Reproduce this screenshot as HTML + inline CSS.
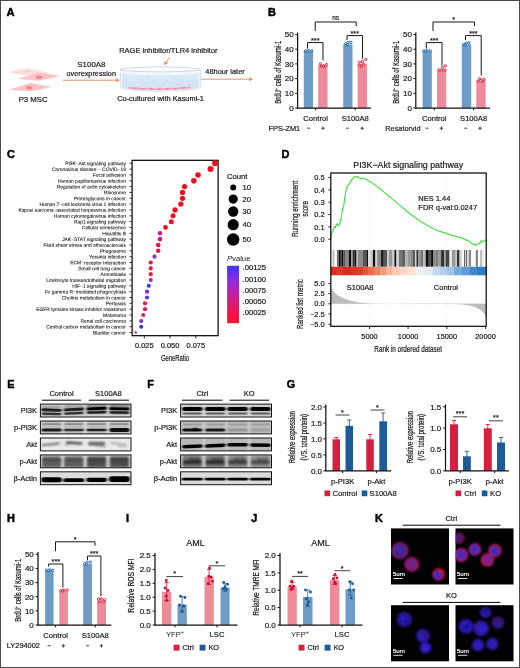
<!DOCTYPE html>
<html lang="en"><head><meta charset="utf-8"><title>Figure</title>
<style>
html,body{margin:0;padding:0;background:#fff;}
body{width:520px;height:668px;overflow:hidden;}
#fig{position:relative;width:520px;height:668px;box-sizing:border-box;border:1px solid #4a4a4a;background:#fff;overflow:hidden;}
svg{position:absolute;left:-1px;top:-1px;display:block;will-change:transform;opacity:0.999;font-family:"Liberation Sans",sans-serif;}
</style></head><body>
<div id="fig">
<svg width="520" height="668" viewBox="0 0 520 668">
<defs><filter id="bl1" x="-20%" y="-20%" width="140%" height="140%"><feGaussianBlur stdDeviation="0.5"/></filter><linearGradient id="dishg" x1="0" y1="0" x2="0" y2="1"><stop offset="0" stop-color="#dcebf8"/><stop offset="0.7" stop-color="#d2e5f5"/><stop offset="1" stop-color="#e2dcea"/></linearGradient><linearGradient id="pg" x1="0" y1="0" x2="0" y2="1"><stop offset="0" stop-color="#3c33ff"/><stop offset="0.25" stop-color="#8a2de0"/><stop offset="0.5" stop-color="#c321a0"/><stop offset="0.78" stop-color="#ee1650"/><stop offset="1" stop-color="#ff1130"/></linearGradient><filter id="bcb" x="-2%" y="-2%" width="104%" height="104%"><feGaussianBlur stdDeviation="0.45 0"/></filter><filter id="wb1" x="-10%" y="-40%" width="120%" height="180%"><feGaussianBlur stdDeviation="0.9 0.6"/></filter><filter id="wb2" x="-10%" y="-40%" width="120%" height="180%"><feGaussianBlur stdDeviation="1.3 1.0"/></filter><clipPath id="cl1"><rect x="40.4" y="404.1" width="90.6" height="12.9"/></clipPath><clipPath id="cl2"><rect x="40.4" y="421.0" width="90.6" height="12.9"/></clipPath><clipPath id="cl3"><rect x="40.4" y="438.0" width="90.6" height="12.9"/></clipPath><clipPath id="cl4"><rect x="40.4" y="454.9" width="90.6" height="12.9"/></clipPath><clipPath id="cl5"><rect x="40.4" y="471.8" width="90.6" height="12.9"/></clipPath><clipPath id="cl6"><rect x="180.6" y="404.1" width="90.9" height="12.9"/></clipPath><clipPath id="cl7"><rect x="180.6" y="421.0" width="90.9" height="12.9"/></clipPath><clipPath id="cl8"><rect x="180.6" y="438.0" width="90.9" height="12.9"/></clipPath><clipPath id="cl9"><rect x="180.6" y="454.9" width="90.9" height="12.9"/></clipPath><clipPath id="cl10"><rect x="180.6" y="471.8" width="90.9" height="12.9"/></clipPath><filter id="kb" x="-30%" y="-30%" width="160%" height="160%"><feGaussianBlur stdDeviation="0.85"/></filter><clipPath id="kc1"><rect x="391.0" y="528.4" width="58.0" height="56.1"/></clipPath><radialGradient id="cg1"><stop offset="0" stop-color="#4a30c0"/><stop offset="0.55" stop-color="#4c2aac"/><stop offset="0.84" stop-color="#a01c70" stop-opacity="0.95"/><stop offset="1" stop-color="#a01c70" stop-opacity="0"/></radialGradient><radialGradient id="cg2"><stop offset="0" stop-color="#7a2aa4"/><stop offset="0.55" stop-color="#86269c"/><stop offset="0.84" stop-color="#b81a5c" stop-opacity="0.95"/><stop offset="1" stop-color="#b81a5c" stop-opacity="0"/></radialGradient><radialGradient id="cg3"><stop offset="0" stop-color="#5a26c8"/><stop offset="0.55" stop-color="#a01c78"/><stop offset="0.84" stop-color="#d81038" stop-opacity="0.95"/><stop offset="1" stop-color="#d81038" stop-opacity="0"/></radialGradient><clipPath id="kc2"><rect x="455.5" y="528.4" width="58.0" height="56.1"/></clipPath><radialGradient id="cg4"><stop offset="0" stop-color="#4a1e90"/><stop offset="0.55" stop-color="#5a1c80"/><stop offset="0.84" stop-color="#7a1238" stop-opacity="0.95"/><stop offset="1" stop-color="#7a1238" stop-opacity="0"/></radialGradient><radialGradient id="cg5"><stop offset="0" stop-color="#5232d4"/><stop offset="0.55" stop-color="#7a2cc0"/><stop offset="0.84" stop-color="#c01c70" stop-opacity="0.95"/><stop offset="1" stop-color="#c01c70" stop-opacity="0"/></radialGradient><radialGradient id="cg6"><stop offset="0" stop-color="#4030e4"/><stop offset="0.55" stop-color="#5a2ed0"/><stop offset="0.84" stop-color="#b82480" stop-opacity="0.95"/><stop offset="1" stop-color="#b82480" stop-opacity="0"/></radialGradient><radialGradient id="cg7"><stop offset="0" stop-color="#3030e6"/><stop offset="0.55" stop-color="#6a2cc8"/><stop offset="0.84" stop-color="#c81c50" stop-opacity="0.95"/><stop offset="1" stop-color="#c81c50" stop-opacity="0"/></radialGradient><radialGradient id="cg8"><stop offset="0" stop-color="#7c2cc0"/><stop offset="0.55" stop-color="#9c28a8"/><stop offset="0.84" stop-color="#d81848" stop-opacity="0.95"/><stop offset="1" stop-color="#d81848" stop-opacity="0"/></radialGradient><clipPath id="kc3"><rect x="391.0" y="605.2" width="58.0" height="56.1"/></clipPath><radialGradient id="cg9"><stop offset="0" stop-color="#2c1ccc"/><stop offset="0.55" stop-color="#2a1ac0"/><stop offset="0.84" stop-color="#34168c" stop-opacity="0.95"/><stop offset="1" stop-color="#34168c" stop-opacity="0"/></radialGradient><radialGradient id="cg10"><stop offset="0" stop-color="#3222dc"/><stop offset="0.55" stop-color="#3020d8"/><stop offset="0.84" stop-color="#2a1498" stop-opacity="0.95"/><stop offset="1" stop-color="#2a1498" stop-opacity="0"/></radialGradient><radialGradient id="cg11"><stop offset="0" stop-color="#3828f0"/><stop offset="0.55" stop-color="#3020e0"/><stop offset="0.84" stop-color="#28149c" stop-opacity="0.95"/><stop offset="1" stop-color="#28149c" stop-opacity="0"/></radialGradient><clipPath id="kc4"><rect x="455.5" y="605.2" width="58.0" height="56.1"/></clipPath><radialGradient id="cg12"><stop offset="0" stop-color="#2a20cc"/><stop offset="0.55" stop-color="#2c1ec4"/><stop offset="0.84" stop-color="#30148c" stop-opacity="0.95"/><stop offset="1" stop-color="#30148c" stop-opacity="0"/></radialGradient><radialGradient id="cg13"><stop offset="0" stop-color="#3a1ea0"/><stop offset="0.55" stop-color="#3a1c98"/><stop offset="0.84" stop-color="#3a1470" stop-opacity="0.95"/><stop offset="1" stop-color="#3a1470" stop-opacity="0"/></radialGradient><radialGradient id="cg14"><stop offset="0" stop-color="#2418c0"/><stop offset="0.55" stop-color="#2c20e0"/><stop offset="0.84" stop-color="#2c18b0" stop-opacity="0.95"/><stop offset="1" stop-color="#2c18b0" stop-opacity="0"/></radialGradient><radialGradient id="cg15"><stop offset="0" stop-color="#3226ea"/><stop offset="0.55" stop-color="#3022e0"/><stop offset="0.84" stop-color="#34188c" stop-opacity="0.95"/><stop offset="1" stop-color="#34188c" stop-opacity="0"/></radialGradient><radialGradient id="cg16"><stop offset="0" stop-color="#3022e4"/><stop offset="0.55" stop-color="#3020dc"/><stop offset="0.84" stop-color="#2c1498" stop-opacity="0.95"/><stop offset="1" stop-color="#2c1498" stop-opacity="0"/></radialGradient><radialGradient id="cg17"><stop offset="0" stop-color="#3422d4"/><stop offset="0.55" stop-color="#3420cc"/><stop offset="0.84" stop-color="#30148c" stop-opacity="0.95"/><stop offset="1" stop-color="#30148c" stop-opacity="0"/></radialGradient></defs>
<text x="6.6" y="16" font-size="11.200000000000001" font-weight="bold" fill="#000" stroke="#000" stroke-width="0.5" stroke-linejoin="round">A</text>
<g filter="url(#bl1)">
<path d="M7.4 72 Q19 69.6 28 68 Q39 70 48.2 72.7 Q36 74.4 25 75.2 Q15 74.2 7.4 72Z" fill="#fbe0dc" opacity="0.95"/>
<ellipse cx="27" cy="71.6" rx="3.4" ry="1.2" fill="#f7c8c8" opacity="0.8"/>
<path d="M18 78.6 Q30 75 38 72.4 Q49 73.8 59.8 76 Q48 79.4 38 80.7 Q27 80 18 78.6Z" fill="#f9c2c3" opacity="0.95"/>
<path d="M8.8 89.6 Q21 86 30.6 82.9 Q41 84.6 51.6 87 Q40 90 30 91.2 Q18 90.8 8.8 89.6Z" fill="#f9bfc0" opacity="0.95"/>
<ellipse cx="39" cy="77.3" rx="3.3" ry="1.7" fill="#ee858e"/>
<ellipse cx="29" cy="87.7" rx="3.3" ry="1.7" fill="#ee858e"/>
</g>
<text x="33.20" y="102.09" font-size="7.8" text-anchor="middle" fill="#1a1a1a" stroke="#1a1a1a" stroke-width="0.2">P3 MSC</text>
<text x="91.40" y="67.23" font-size="7.9" text-anchor="middle" fill="#1a1a1a" stroke="#1a1a1a" stroke-width="0.2">S100A8</text>
<text x="91.20" y="75.81" font-size="7.3" text-anchor="middle" fill="#1a1a1a" stroke="#1a1a1a" stroke-width="0.2">overexpression</text>
<line x1="62.50" y1="80.20" x2="117.50" y2="80.20" stroke="#e58a55" stroke-width="0.9"/>
<polygon points="120,80.2 115.6,78.2 116.4,80.2 115.6,82.2" fill="#e58a55"/>
<text x="119.20" y="53.29" font-size="7.5" text-anchor="start" fill="#1a1a1a" stroke="#1a1a1a" stroke-width="0.2">RAGE inhibitor/TLR4 inhibitor</text>
<line x1="169.60" y1="57.40" x2="165.60" y2="63.20" stroke="#e58a55" stroke-width="0.95"/>
<polygon points="164.3,65.2 164.4,60.8 165.8,62.6 168.0,62.9" fill="#e58a55"/>
<g filter="url(#bl1)">
<path d="M120.4 69.4 L120.4 87 A40 4.2 0 0 0 200.4 87 L200.4 69.4 Z" fill="#f1f6fb" stroke="#c3cfda" stroke-width="0.6"/>
<path d="M122 72.6 L122 86.6 A38.4 3.8 0 0 0 198.8 86.6 L198.8 72.6 A38.4 2.6 0 0 1 122 72.6 Z" fill="url(#dishg)"/>
<ellipse cx="160.4" cy="69.4" rx="40" ry="2.4" fill="#fbfdfe" stroke="#bcc8d4" stroke-width="0.7"/>
<path d="M128 87.6 Q144 89.6 160 89.2 T191 87.4" stroke="#f4a3b2" stroke-width="1.7" fill="none" opacity="0.9"/>
<ellipse cx="135" cy="88.2" rx="2.2" ry="0.8" fill="#ef8394" opacity="0.8"/>
<ellipse cx="143" cy="88.8" rx="2.2" ry="0.8" fill="#ef8394" opacity="0.8"/>
<ellipse cx="151" cy="88.6" rx="2.2" ry="0.8" fill="#ef8394" opacity="0.8"/>
<ellipse cx="159" cy="89.2" rx="2.2" ry="0.8" fill="#ef8394" opacity="0.8"/>
<ellipse cx="167" cy="88.7" rx="2.2" ry="0.8" fill="#ef8394" opacity="0.8"/>
<ellipse cx="175" cy="88.8" rx="2.2" ry="0.8" fill="#ef8394" opacity="0.8"/>
<ellipse cx="183" cy="88.0" rx="2.2" ry="0.8" fill="#ef8394" opacity="0.8"/>
<path d="M139.6 79.5 q1.4 -1.6 2.8 0" stroke="#a9c9e8" stroke-width="0.5" fill="none"/>
<path d="M146.6 78.0 q1.4 -1.6 2.8 0" stroke="#a9c9e8" stroke-width="0.5" fill="none"/>
<path d="M151.6 81.5 q1.4 -1.6 2.8 0" stroke="#a9c9e8" stroke-width="0.5" fill="none"/>
<path d="M158.6 79.0 q1.4 -1.6 2.8 0" stroke="#a9c9e8" stroke-width="0.5" fill="none"/>
<path d="M165.6 81.0 q1.4 -1.6 2.8 0" stroke="#a9c9e8" stroke-width="0.5" fill="none"/>
<path d="M172.6 78.5 q1.4 -1.6 2.8 0" stroke="#a9c9e8" stroke-width="0.5" fill="none"/>
<path d="M179.6 81.0 q1.4 -1.6 2.8 0" stroke="#a9c9e8" stroke-width="0.5" fill="none"/>
<path d="M144.6 83.5 q1.4 -1.6 2.8 0" stroke="#a9c9e8" stroke-width="0.5" fill="none"/>
<path d="M162.6 84.0 q1.4 -1.6 2.8 0" stroke="#a9c9e8" stroke-width="0.5" fill="none"/>
<path d="M175.6 84.0 q1.4 -1.6 2.8 0" stroke="#a9c9e8" stroke-width="0.5" fill="none"/>
</g>
<line x1="200.80" y1="79.20" x2="250.60" y2="79.20" stroke="#e58a55" stroke-width="0.9"/>
<polygon points="253.2,79.2 248.8,77.2 249.6,79.2 248.8,81.2" fill="#e58a55"/>
<text x="205.30" y="74.25" font-size="7.4" text-anchor="start" fill="#1a1a1a" stroke="#1a1a1a" stroke-width="0.2">48hour later</text>
<text x="117.20" y="100.95" font-size="7.4" text-anchor="start" fill="#1a1a1a" stroke="#1a1a1a" stroke-width="0.2">Co-cultured with Kasumi-1</text>
<text x="268" y="16" font-size="10.9" font-weight="bold" fill="#000" stroke="#000" stroke-width="0.5" stroke-linejoin="round">B</text>
<rect x="303.80" y="51.41" width="9.20" height="56.59" fill="#6f9cc6"/>
<rect x="318.20" y="65.08" width="9.30" height="42.92" fill="#ee8b9b"/>
<rect x="343.20" y="44.35" width="9.30" height="63.65" fill="#6f9cc6"/>
<rect x="357.60" y="63.90" width="9.40" height="44.10" fill="#ee8b9b"/>
<line x1="297.60" y1="32.50" x2="297.60" y2="108.40" stroke="#111" stroke-width="1.25"/>
<line x1="297.20" y1="108.00" x2="371.00" y2="108.00" stroke="#111" stroke-width="1.25"/>
<line x1="295.20" y1="108.00" x2="297.60" y2="108.00" stroke="#111" stroke-width="1.0"/>
<text x="293.60" y="110.86" font-size="8" text-anchor="end" fill="#1a1a1a" stroke="#1a1a1a" stroke-width="0.2">0</text>
<line x1="295.20" y1="93.30" x2="297.60" y2="93.30" stroke="#111" stroke-width="1.0"/>
<text x="293.60" y="96.16" font-size="8" text-anchor="end" fill="#1a1a1a" stroke="#1a1a1a" stroke-width="0.2">10</text>
<line x1="295.20" y1="78.60" x2="297.60" y2="78.60" stroke="#111" stroke-width="1.0"/>
<text x="293.60" y="81.46" font-size="8" text-anchor="end" fill="#1a1a1a" stroke="#1a1a1a" stroke-width="0.2">20</text>
<line x1="295.20" y1="63.90" x2="297.60" y2="63.90" stroke="#111" stroke-width="1.0"/>
<text x="293.60" y="66.76" font-size="8" text-anchor="end" fill="#1a1a1a" stroke="#1a1a1a" stroke-width="0.2">30</text>
<line x1="295.20" y1="49.20" x2="297.60" y2="49.20" stroke="#111" stroke-width="1.0"/>
<text x="293.60" y="52.06" font-size="8" text-anchor="end" fill="#1a1a1a" stroke="#1a1a1a" stroke-width="0.2">40</text>
<line x1="295.20" y1="34.50" x2="297.60" y2="34.50" stroke="#111" stroke-width="1.0"/>
<text x="293.60" y="37.36" font-size="8" text-anchor="end" fill="#1a1a1a" stroke="#1a1a1a" stroke-width="0.2">50</text>
<line x1="315.60" y1="108.00" x2="315.60" y2="110.30" stroke="#111" stroke-width="1.0"/>
<text x="315.60" y="120.92" font-size="7.6" text-anchor="middle" fill="#1a1a1a" stroke="#1a1a1a" stroke-width="0.2">Control</text>
<line x1="355.20" y1="108.00" x2="355.20" y2="110.30" stroke="#111" stroke-width="1.0"/>
<text x="355.20" y="120.92" font-size="7.6" text-anchor="middle" fill="#1a1a1a" stroke="#1a1a1a" stroke-width="0.2">S100A8</text>
<circle cx="305.40" cy="50.90" r="1.15" fill="#fff" fill-opacity="0.6" stroke="#1f66b0" stroke-width="1.0"/>
<circle cx="308.70" cy="50.70" r="1.15" fill="#fff" fill-opacity="0.6" stroke="#1f66b0" stroke-width="1.0"/>
<circle cx="311.80" cy="50.90" r="1.15" fill="#fff" fill-opacity="0.6" stroke="#1f66b0" stroke-width="1.0"/>
<circle cx="307.20" cy="51.20" r="1.15" fill="#fff" fill-opacity="0.6" stroke="#1f66b0" stroke-width="1.0"/>
<circle cx="320.50" cy="63.70" r="1.15" fill="#fff" fill-opacity="0.6" stroke="#df1c38" stroke-width="1.0"/>
<circle cx="323.30" cy="65.90" r="1.15" fill="#fff" fill-opacity="0.6" stroke="#df1c38" stroke-width="1.0"/>
<circle cx="326.40" cy="64.40" r="1.15" fill="#fff" fill-opacity="0.6" stroke="#df1c38" stroke-width="1.0"/>
<circle cx="321.50" cy="66.20" r="1.15" fill="#fff" fill-opacity="0.6" stroke="#df1c38" stroke-width="1.0"/>
<circle cx="325.00" cy="66.20" r="1.15" fill="#fff" fill-opacity="0.6" stroke="#df1c38" stroke-width="1.0"/>
<circle cx="345.70" cy="43.80" r="1.15" fill="#fff" fill-opacity="0.6" stroke="#1f66b0" stroke-width="1.0"/>
<circle cx="348.10" cy="42.40" r="1.15" fill="#fff" fill-opacity="0.6" stroke="#1f66b0" stroke-width="1.0"/>
<circle cx="350.90" cy="42.40" r="1.15" fill="#fff" fill-opacity="0.6" stroke="#1f66b0" stroke-width="1.0"/>
<circle cx="347.10" cy="44.80" r="1.15" fill="#fff" fill-opacity="0.6" stroke="#1f66b0" stroke-width="1.0"/>
<circle cx="359.40" cy="62.30" r="1.15" fill="#fff" fill-opacity="0.6" stroke="#df1c38" stroke-width="1.0"/>
<circle cx="362.30" cy="61.60" r="1.15" fill="#fff" fill-opacity="0.6" stroke="#df1c38" stroke-width="1.0"/>
<circle cx="365.60" cy="59.50" r="1.15" fill="#fff" fill-opacity="0.6" stroke="#df1c38" stroke-width="1.0"/>
<circle cx="359.40" cy="65.20" r="1.15" fill="#fff" fill-opacity="0.6" stroke="#df1c38" stroke-width="1.0"/>
<circle cx="363.40" cy="64.40" r="1.15" fill="#fff" fill-opacity="0.6" stroke="#df1c38" stroke-width="1.0"/>
<circle cx="361.30" cy="66.60" r="1.15" fill="#fff" fill-opacity="0.6" stroke="#df1c38" stroke-width="1.0"/>
<path d="M307.50 48.60V42.60H323.00V60.40" stroke="#0c0c0c" stroke-width="0.95" fill="none"/>
<text x="315.25" y="42.78" font-size="7.2" text-anchor="middle" fill="#1a1a1a" stroke="#1a1a1a" stroke-width="0.2">***</text>
<path d="M347.00 40.00V35.60H362.50V58.60" stroke="#0c0c0c" stroke-width="0.95" fill="none"/>
<text x="354.75" y="35.78" font-size="7.2" text-anchor="middle" fill="#1a1a1a" stroke="#1a1a1a" stroke-width="0.2">***</text>
<path d="M315.20 31.00V22.00H356.20V26.00" stroke="#0c0c0c" stroke-width="0.95" fill="none"/>
<text x="335.70" y="19.56" font-size="6.6" text-anchor="middle" fill="#1a1a1a" stroke="#1a1a1a" stroke-width="0.2">ns</text>
<text transform="translate(280.58,72.25) rotate(-90) scale(0.68,1)" font-size="8.8" text-anchor="middle" fill="#1a1a1a" stroke="#1a1a1a" stroke-width="0.22">BrdU<tspan dy="-3" font-size="5.6">+</tspan><tspan dy="3"> cells of Kasumi-1</tspan></text>
<text x="268.60" y="130.85" font-size="7.4" text-anchor="start" fill="#1a1a1a" stroke="#1a1a1a" stroke-width="0.2">FPS-ZM1</text>
<line x1="307.00" y1="128.20" x2="310.20" y2="128.20" stroke="#222" stroke-width="0.8"/>
<line x1="321.20" y1="128.20" x2="324.80" y2="128.20" stroke="#222" stroke-width="0.8"/>
<line x1="323.00" y1="126.40" x2="323.00" y2="130.00" stroke="#222" stroke-width="0.8"/>
<line x1="346.00" y1="128.20" x2="349.20" y2="128.20" stroke="#222" stroke-width="0.8"/>
<line x1="360.40" y1="128.20" x2="364.00" y2="128.20" stroke="#222" stroke-width="0.8"/>
<line x1="362.20" y1="126.40" x2="362.20" y2="130.00" stroke="#222" stroke-width="0.8"/>
<rect x="422.60" y="51.41" width="9.20" height="56.59" fill="#6f9cc6"/>
<rect x="437.00" y="70.66" width="9.30" height="37.34" fill="#ee8b9b"/>
<rect x="461.80" y="44.35" width="9.40" height="63.65" fill="#6f9cc6"/>
<rect x="476.30" y="81.39" width="9.40" height="26.61" fill="#ee8b9b"/>
<line x1="415.80" y1="32.50" x2="415.80" y2="108.40" stroke="#111" stroke-width="1.25"/>
<line x1="415.40" y1="108.00" x2="490.00" y2="108.00" stroke="#111" stroke-width="1.25"/>
<line x1="413.40" y1="108.00" x2="415.80" y2="108.00" stroke="#111" stroke-width="1.0"/>
<text x="412.00" y="110.86" font-size="8" text-anchor="end" fill="#1a1a1a" stroke="#1a1a1a" stroke-width="0.2">0</text>
<line x1="413.40" y1="93.30" x2="415.80" y2="93.30" stroke="#111" stroke-width="1.0"/>
<text x="412.00" y="96.16" font-size="8" text-anchor="end" fill="#1a1a1a" stroke="#1a1a1a" stroke-width="0.2">10</text>
<line x1="413.40" y1="78.60" x2="415.80" y2="78.60" stroke="#111" stroke-width="1.0"/>
<text x="412.00" y="81.46" font-size="8" text-anchor="end" fill="#1a1a1a" stroke="#1a1a1a" stroke-width="0.2">20</text>
<line x1="413.40" y1="63.90" x2="415.80" y2="63.90" stroke="#111" stroke-width="1.0"/>
<text x="412.00" y="66.76" font-size="8" text-anchor="end" fill="#1a1a1a" stroke="#1a1a1a" stroke-width="0.2">30</text>
<line x1="413.40" y1="49.20" x2="415.80" y2="49.20" stroke="#111" stroke-width="1.0"/>
<text x="412.00" y="52.06" font-size="8" text-anchor="end" fill="#1a1a1a" stroke="#1a1a1a" stroke-width="0.2">40</text>
<line x1="413.40" y1="34.50" x2="415.80" y2="34.50" stroke="#111" stroke-width="1.0"/>
<text x="412.00" y="37.36" font-size="8" text-anchor="end" fill="#1a1a1a" stroke="#1a1a1a" stroke-width="0.2">50</text>
<line x1="434.20" y1="108.00" x2="434.20" y2="110.30" stroke="#111" stroke-width="1.0"/>
<text x="434.20" y="120.92" font-size="7.6" text-anchor="middle" fill="#1a1a1a" stroke="#1a1a1a" stroke-width="0.2">Control</text>
<line x1="473.60" y1="108.00" x2="473.60" y2="110.30" stroke="#111" stroke-width="1.0"/>
<text x="473.60" y="120.92" font-size="7.6" text-anchor="middle" fill="#1a1a1a" stroke="#1a1a1a" stroke-width="0.2">S100A8</text>
<circle cx="423.80" cy="50.90" r="1.15" fill="#fff" fill-opacity="0.6" stroke="#1f66b0" stroke-width="1.0"/>
<circle cx="427.10" cy="50.70" r="1.15" fill="#fff" fill-opacity="0.6" stroke="#1f66b0" stroke-width="1.0"/>
<circle cx="430.20" cy="50.90" r="1.15" fill="#fff" fill-opacity="0.6" stroke="#1f66b0" stroke-width="1.0"/>
<circle cx="425.60" cy="51.20" r="1.15" fill="#fff" fill-opacity="0.6" stroke="#1f66b0" stroke-width="1.0"/>
<circle cx="438.80" cy="70.10" r="1.15" fill="#fff" fill-opacity="0.6" stroke="#df1c38" stroke-width="1.0"/>
<circle cx="441.60" cy="70.10" r="1.15" fill="#fff" fill-opacity="0.6" stroke="#df1c38" stroke-width="1.0"/>
<circle cx="444.90" cy="70.10" r="1.15" fill="#fff" fill-opacity="0.6" stroke="#df1c38" stroke-width="1.0"/>
<circle cx="442.30" cy="67.60" r="1.15" fill="#fff" fill-opacity="0.6" stroke="#df1c38" stroke-width="1.0"/>
<circle cx="445.20" cy="65.90" r="1.15" fill="#fff" fill-opacity="0.6" stroke="#df1c38" stroke-width="1.0"/>
<circle cx="463.70" cy="44.50" r="1.15" fill="#fff" fill-opacity="0.6" stroke="#1f66b0" stroke-width="1.0"/>
<circle cx="466.10" cy="43.10" r="1.15" fill="#fff" fill-opacity="0.6" stroke="#1f66b0" stroke-width="1.0"/>
<circle cx="468.90" cy="42.80" r="1.15" fill="#fff" fill-opacity="0.6" stroke="#1f66b0" stroke-width="1.0"/>
<circle cx="465.10" cy="45.20" r="1.15" fill="#fff" fill-opacity="0.6" stroke="#1f66b0" stroke-width="1.0"/>
<circle cx="477.90" cy="81.20" r="1.15" fill="#fff" fill-opacity="0.6" stroke="#df1c38" stroke-width="1.0"/>
<circle cx="480.70" cy="80.40" r="1.15" fill="#fff" fill-opacity="0.6" stroke="#df1c38" stroke-width="1.0"/>
<circle cx="484.00" cy="79.40" r="1.15" fill="#fff" fill-opacity="0.6" stroke="#df1c38" stroke-width="1.0"/>
<circle cx="479.70" cy="78.70" r="1.15" fill="#fff" fill-opacity="0.6" stroke="#df1c38" stroke-width="1.0"/>
<circle cx="482.90" cy="81.20" r="1.15" fill="#fff" fill-opacity="0.6" stroke="#df1c38" stroke-width="1.0"/>
<path d="M426.30 48.60V42.60H442.00V65.60" stroke="#0c0c0c" stroke-width="0.95" fill="none"/>
<text x="434.15" y="42.78" font-size="7.2" text-anchor="middle" fill="#1a1a1a" stroke="#1a1a1a" stroke-width="0.2">***</text>
<path d="M465.50 40.00V35.60H481.20V75.60" stroke="#0c0c0c" stroke-width="0.95" fill="none"/>
<text x="473.35" y="35.78" font-size="7.2" text-anchor="middle" fill="#1a1a1a" stroke="#1a1a1a" stroke-width="0.2">***</text>
<path d="M433.00 31.00V22.00H474.50V26.00" stroke="#0c0c0c" stroke-width="0.95" fill="none"/>
<text x="453.75" y="21.78" font-size="7.2" text-anchor="middle" fill="#1a1a1a" stroke="#1a1a1a" stroke-width="0.2">*</text>
<text transform="translate(398.58,72.25) rotate(-90) scale(0.68,1)" font-size="8.8" text-anchor="middle" fill="#1a1a1a" stroke="#1a1a1a" stroke-width="0.22">BrdU<tspan dy="-3" font-size="5.6">+</tspan><tspan dy="3"> cells of Kasumi-1</tspan></text>
<text x="385.20" y="130.85" font-size="7.4" text-anchor="start" fill="#1a1a1a" stroke="#1a1a1a" stroke-width="0.2">Resatorvid</text>
<line x1="425.40" y1="128.20" x2="428.60" y2="128.20" stroke="#222" stroke-width="0.8"/>
<line x1="439.60" y1="128.20" x2="443.20" y2="128.20" stroke="#222" stroke-width="0.8"/>
<line x1="441.40" y1="126.40" x2="441.40" y2="130.00" stroke="#222" stroke-width="0.8"/>
<line x1="464.20" y1="128.20" x2="467.40" y2="128.20" stroke="#222" stroke-width="0.8"/>
<line x1="478.20" y1="128.20" x2="481.80" y2="128.20" stroke="#222" stroke-width="0.8"/>
<line x1="480.00" y1="126.40" x2="480.00" y2="130.00" stroke="#222" stroke-width="0.8"/>
<text x="7" y="157.6" font-size="10.9" font-weight="bold" fill="#000" stroke="#000" stroke-width="0.5" stroke-linejoin="round">C</text>
<text transform="translate(125.9,165.15) rotate(0.03)" font-size="4.9" text-anchor="end" fill="#1a1a1a" stroke="#1a1a1a" stroke-width="0.1">PI3K−Akt signaling pathway</text>
<line x1="129.40" y1="163.25" x2="131.80" y2="163.25" stroke="#111" stroke-width="0.8"/>
<text transform="translate(125.9,170.99) rotate(0.03)" font-size="4.9" text-anchor="end" fill="#1a1a1a" stroke="#1a1a1a" stroke-width="0.1">Coronavirus disease − COVID−19</text>
<line x1="129.40" y1="169.09" x2="131.80" y2="169.09" stroke="#111" stroke-width="0.8"/>
<text transform="translate(125.9,176.83) rotate(0.03)" font-size="4.9" text-anchor="end" fill="#1a1a1a" stroke="#1a1a1a" stroke-width="0.1">Focal adhesion</text>
<line x1="129.40" y1="174.93" x2="131.80" y2="174.93" stroke="#111" stroke-width="0.8"/>
<text transform="translate(125.9,182.67) rotate(0.03)" font-size="4.9" text-anchor="end" fill="#1a1a1a" stroke="#1a1a1a" stroke-width="0.1">Human papillomavirus infection</text>
<line x1="129.40" y1="180.76" x2="131.80" y2="180.76" stroke="#111" stroke-width="0.8"/>
<text transform="translate(125.9,188.51) rotate(0.03)" font-size="4.9" text-anchor="end" fill="#1a1a1a" stroke="#1a1a1a" stroke-width="0.1">Regulation of actin cytoskeleton</text>
<line x1="129.40" y1="186.60" x2="131.80" y2="186.60" stroke="#111" stroke-width="0.8"/>
<text transform="translate(125.9,194.34) rotate(0.03)" font-size="4.9" text-anchor="end" fill="#1a1a1a" stroke="#1a1a1a" stroke-width="0.1">Ribosome</text>
<line x1="129.40" y1="192.44" x2="131.80" y2="192.44" stroke="#111" stroke-width="0.8"/>
<text transform="translate(125.9,200.18) rotate(0.03)" font-size="4.9" text-anchor="end" fill="#1a1a1a" stroke="#1a1a1a" stroke-width="0.1">Proteoglycans in cancer</text>
<line x1="129.40" y1="198.28" x2="131.80" y2="198.28" stroke="#111" stroke-width="0.8"/>
<text transform="translate(125.9,206.02) rotate(0.03)" font-size="4.9" text-anchor="end" fill="#1a1a1a" stroke="#1a1a1a" stroke-width="0.1">Human T−cell leukemia virus 1 infection</text>
<line x1="129.40" y1="204.12" x2="131.80" y2="204.12" stroke="#111" stroke-width="0.8"/>
<text transform="translate(125.9,211.86) rotate(0.03)" font-size="4.9" text-anchor="end" fill="#1a1a1a" stroke="#1a1a1a" stroke-width="0.1">Kaposi sarcoma−associated herpesvirus infection</text>
<line x1="129.40" y1="209.95" x2="131.80" y2="209.95" stroke="#111" stroke-width="0.8"/>
<text transform="translate(125.9,217.70) rotate(0.03)" font-size="4.9" text-anchor="end" fill="#1a1a1a" stroke="#1a1a1a" stroke-width="0.1">Human cytomegalovirus infection</text>
<line x1="129.40" y1="215.79" x2="131.80" y2="215.79" stroke="#111" stroke-width="0.8"/>
<text transform="translate(125.9,223.53) rotate(0.03)" font-size="4.9" text-anchor="end" fill="#1a1a1a" stroke="#1a1a1a" stroke-width="0.1">Rap1 signaling pathway</text>
<line x1="129.40" y1="221.63" x2="131.80" y2="221.63" stroke="#111" stroke-width="0.8"/>
<text transform="translate(125.9,229.37) rotate(0.03)" font-size="4.9" text-anchor="end" fill="#1a1a1a" stroke="#1a1a1a" stroke-width="0.1">Cellular senescence</text>
<line x1="129.40" y1="227.47" x2="131.80" y2="227.47" stroke="#111" stroke-width="0.8"/>
<text transform="translate(125.9,235.21) rotate(0.03)" font-size="4.9" text-anchor="end" fill="#1a1a1a" stroke="#1a1a1a" stroke-width="0.1">Hepatitis B</text>
<line x1="129.40" y1="233.31" x2="131.80" y2="233.31" stroke="#111" stroke-width="0.8"/>
<text transform="translate(125.9,241.05) rotate(0.03)" font-size="4.9" text-anchor="end" fill="#1a1a1a" stroke="#1a1a1a" stroke-width="0.1">JAK−STAT signaling pathway</text>
<line x1="129.40" y1="239.14" x2="131.80" y2="239.14" stroke="#111" stroke-width="0.8"/>
<text transform="translate(125.9,246.89) rotate(0.03)" font-size="4.9" text-anchor="end" fill="#1a1a1a" stroke="#1a1a1a" stroke-width="0.1">Fluid shear stress and atherosclerosis</text>
<line x1="129.40" y1="244.98" x2="131.80" y2="244.98" stroke="#111" stroke-width="0.8"/>
<text transform="translate(125.9,252.72) rotate(0.03)" font-size="4.9" text-anchor="end" fill="#1a1a1a" stroke="#1a1a1a" stroke-width="0.1">Phagosome</text>
<line x1="129.40" y1="250.82" x2="131.80" y2="250.82" stroke="#111" stroke-width="0.8"/>
<text transform="translate(125.9,258.56) rotate(0.03)" font-size="4.9" text-anchor="end" fill="#1a1a1a" stroke="#1a1a1a" stroke-width="0.1">Yersinia infection</text>
<line x1="129.40" y1="256.66" x2="131.80" y2="256.66" stroke="#111" stroke-width="0.8"/>
<text transform="translate(125.9,264.40) rotate(0.03)" font-size="4.9" text-anchor="end" fill="#1a1a1a" stroke="#1a1a1a" stroke-width="0.1">ECM−receptor interaction</text>
<line x1="129.40" y1="262.50" x2="131.80" y2="262.50" stroke="#111" stroke-width="0.8"/>
<text transform="translate(125.9,270.24) rotate(0.03)" font-size="4.9" text-anchor="end" fill="#1a1a1a" stroke="#1a1a1a" stroke-width="0.1">Small cell lung cancer</text>
<line x1="129.40" y1="268.33" x2="131.80" y2="268.33" stroke="#111" stroke-width="0.8"/>
<text transform="translate(125.9,276.08) rotate(0.03)" font-size="4.9" text-anchor="end" fill="#1a1a1a" stroke="#1a1a1a" stroke-width="0.1">Amoebiasis</text>
<line x1="129.40" y1="274.17" x2="131.80" y2="274.17" stroke="#111" stroke-width="0.8"/>
<text transform="translate(125.9,281.91) rotate(0.03)" font-size="4.9" text-anchor="end" fill="#1a1a1a" stroke="#1a1a1a" stroke-width="0.1">Leukocyte transendothelial migration</text>
<line x1="129.40" y1="280.01" x2="131.80" y2="280.01" stroke="#111" stroke-width="0.8"/>
<text transform="translate(125.9,287.75) rotate(0.03)" font-size="4.9" text-anchor="end" fill="#1a1a1a" stroke="#1a1a1a" stroke-width="0.1">HIF−1 signaling pathway</text>
<line x1="129.40" y1="285.85" x2="131.80" y2="285.85" stroke="#111" stroke-width="0.8"/>
<text transform="translate(125.9,293.59) rotate(0.03)" font-size="4.9" text-anchor="end" fill="#1a1a1a" stroke="#1a1a1a" stroke-width="0.1">Fc gamma R−mediated phagocytosis</text>
<line x1="129.40" y1="291.69" x2="131.80" y2="291.69" stroke="#111" stroke-width="0.8"/>
<text transform="translate(125.9,299.43) rotate(0.03)" font-size="4.9" text-anchor="end" fill="#1a1a1a" stroke="#1a1a1a" stroke-width="0.1">Choline metabolism in cancer</text>
<line x1="129.40" y1="297.52" x2="131.80" y2="297.52" stroke="#111" stroke-width="0.8"/>
<text transform="translate(125.9,305.27) rotate(0.03)" font-size="4.9" text-anchor="end" fill="#1a1a1a" stroke="#1a1a1a" stroke-width="0.1">Pertussis</text>
<line x1="129.40" y1="303.36" x2="131.80" y2="303.36" stroke="#111" stroke-width="0.8"/>
<text transform="translate(125.9,311.10) rotate(0.03)" font-size="4.9" text-anchor="end" fill="#1a1a1a" stroke="#1a1a1a" stroke-width="0.1">EGFR tyrosine kinase inhibitor resistance</text>
<line x1="129.40" y1="309.20" x2="131.80" y2="309.20" stroke="#111" stroke-width="0.8"/>
<text transform="translate(125.9,316.94) rotate(0.03)" font-size="4.9" text-anchor="end" fill="#1a1a1a" stroke="#1a1a1a" stroke-width="0.1">Melanoma</text>
<line x1="129.40" y1="315.04" x2="131.80" y2="315.04" stroke="#111" stroke-width="0.8"/>
<text transform="translate(125.9,322.78) rotate(0.03)" font-size="4.9" text-anchor="end" fill="#1a1a1a" stroke="#1a1a1a" stroke-width="0.1">Renal cell carcinoma</text>
<line x1="129.40" y1="320.88" x2="131.80" y2="320.88" stroke="#111" stroke-width="0.8"/>
<text transform="translate(125.9,328.62) rotate(0.03)" font-size="4.9" text-anchor="end" fill="#1a1a1a" stroke="#1a1a1a" stroke-width="0.1">Central carbon metabolism in cancer</text>
<line x1="129.40" y1="326.71" x2="131.80" y2="326.71" stroke="#111" stroke-width="0.8"/>
<text transform="translate(125.9,334.46) rotate(0.03)" font-size="4.9" text-anchor="end" fill="#1a1a1a" stroke="#1a1a1a" stroke-width="0.1">Bladder cancer</text>
<line x1="129.40" y1="332.55" x2="131.80" y2="332.55" stroke="#111" stroke-width="0.8"/>
<rect x="132.1" y="160.3" width="86.0" height="175.4" fill="#fff" stroke="#000" stroke-width="1.2"/>
<circle cx="215.00" cy="163.25" r="3.00" fill="#f20d1e"/>
<circle cx="210.50" cy="169.09" r="3.00" fill="#f20d1e"/>
<circle cx="198.00" cy="174.93" r="2.80" fill="#f20d1e"/>
<circle cx="193.80" cy="180.76" r="2.80" fill="#f20d1e"/>
<circle cx="184.50" cy="186.60" r="2.60" fill="#f20d1e"/>
<circle cx="182.50" cy="192.44" r="2.60" fill="#f20d1e"/>
<circle cx="182.50" cy="198.28" r="2.60" fill="#f20d1e"/>
<circle cx="180.80" cy="204.12" r="2.60" fill="#f20d1e"/>
<circle cx="175.00" cy="209.95" r="2.60" fill="#f20d1e"/>
<circle cx="173.00" cy="215.79" r="2.50" fill="#f20e20"/>
<circle cx="171.30" cy="221.63" r="2.50" fill="#f20e20"/>
<circle cx="165.50" cy="227.47" r="2.40" fill="#f01022"/>
<circle cx="160.00" cy="233.31" r="2.30" fill="#b4239b"/>
<circle cx="160.00" cy="239.14" r="2.30" fill="#c81f86"/>
<circle cx="158.20" cy="244.98" r="2.30" fill="#e8173f"/>
<circle cx="158.20" cy="250.82" r="2.30" fill="#d51c6c"/>
<circle cx="154.50" cy="256.66" r="2.10" fill="#9a2bbf"/>
<circle cx="150.70" cy="262.50" r="2.10" fill="#ee1538"/>
<circle cx="150.70" cy="268.33" r="2.10" fill="#f0143a"/>
<circle cx="150.70" cy="274.17" r="2.10" fill="#ee1538"/>
<circle cx="150.70" cy="280.01" r="2.10" fill="#a927ab"/>
<circle cx="148.80" cy="285.85" r="2.10" fill="#4f31ee"/>
<circle cx="147.00" cy="291.69" r="2.10" fill="#7a2fd6"/>
<circle cx="147.00" cy="297.52" r="2.10" fill="#7a2fd6"/>
<circle cx="145.00" cy="303.36" r="2.10" fill="#e61848"/>
<circle cx="145.00" cy="309.20" r="2.10" fill="#e41a4e"/>
<circle cx="143.20" cy="315.04" r="2.00" fill="#cf1e72"/>
<circle cx="141.20" cy="320.88" r="2.00" fill="#742fd9"/>
<circle cx="141.20" cy="326.71" r="2.00" fill="#3a31f6"/>
<circle cx="135.80" cy="332.55" r="1.20" fill="#9a2bbf"/>
<line x1="144.30" y1="336.00" x2="144.30" y2="338.50" stroke="#111" stroke-width="0.9"/>
<text x="144.30" y="348.45" font-size="7.4" text-anchor="middle" fill="#1a1a1a" stroke="#1a1a1a" stroke-width="0.2">0.025</text>
<line x1="170.00" y1="336.00" x2="170.00" y2="338.50" stroke="#111" stroke-width="0.9"/>
<text x="170.00" y="348.45" font-size="7.4" text-anchor="middle" fill="#1a1a1a" stroke="#1a1a1a" stroke-width="0.2">0.050</text>
<line x1="195.80" y1="336.00" x2="195.80" y2="338.50" stroke="#111" stroke-width="0.9"/>
<text x="195.80" y="348.45" font-size="7.4" text-anchor="middle" fill="#1a1a1a" stroke="#1a1a1a" stroke-width="0.2">0.075</text>
<text transform="translate(175.00,360.54) scale(0.72,1)" font-size="8.2" text-anchor="middle" fill="#1a1a1a" stroke="#1a1a1a" stroke-width="0.2">GeneRatio</text>
<text x="226.90" y="179.16" font-size="7.7" text-anchor="start" fill="#1a1a1a" stroke="#1a1a1a" stroke-width="0.2">Count</text>
<circle cx="233.20" cy="187.60" r="3.00" fill="#000"/>
<text x="242.60" y="190.36" font-size="7.7" text-anchor="start" fill="#1a1a1a" stroke="#1a1a1a" stroke-width="0.2">10</text>
<circle cx="233.20" cy="199.10" r="4.60" fill="#000"/>
<text x="242.60" y="201.86" font-size="7.7" text-anchor="start" fill="#1a1a1a" stroke="#1a1a1a" stroke-width="0.2">20</text>
<circle cx="233.20" cy="211.50" r="5.20" fill="#000"/>
<text x="242.60" y="214.26" font-size="7.7" text-anchor="start" fill="#1a1a1a" stroke="#1a1a1a" stroke-width="0.2">30</text>
<circle cx="233.20" cy="224.70" r="5.60" fill="#000"/>
<text x="242.60" y="227.46" font-size="7.7" text-anchor="start" fill="#1a1a1a" stroke="#1a1a1a" stroke-width="0.2">40</text>
<circle cx="233.20" cy="239.50" r="6.20" fill="#000"/>
<text x="242.60" y="242.26" font-size="7.7" text-anchor="start" fill="#1a1a1a" stroke="#1a1a1a" stroke-width="0.2">50</text>
<text x="226.9" y="260.8" font-size="7.7" fill="#1a1a1a"><tspan font-style="italic">P</tspan>value</text>
<rect x="227.10" y="265.80" width="11.90" height="57.40" fill="url(#pg)"/>
<text x="242.60" y="270.36" font-size="7.7" text-anchor="start" fill="#1a1a1a" stroke="#1a1a1a" stroke-width="0.2">.00125</text>
<text x="242.60" y="281.56" font-size="7.7" text-anchor="start" fill="#1a1a1a" stroke="#1a1a1a" stroke-width="0.2">.00100</text>
<text x="242.60" y="292.76" font-size="7.7" text-anchor="start" fill="#1a1a1a" stroke="#1a1a1a" stroke-width="0.2">.00075</text>
<text x="242.60" y="304.06" font-size="7.7" text-anchor="start" fill="#1a1a1a" stroke="#1a1a1a" stroke-width="0.2">.00050</text>
<text x="242.60" y="315.26" font-size="7.7" text-anchor="start" fill="#1a1a1a" stroke="#1a1a1a" stroke-width="0.2">.00025</text>
<text x="281.6" y="157.6" font-size="10.9" font-weight="bold" fill="#000" stroke="#000" stroke-width="0.5" stroke-linejoin="round">D</text>
<text x="408.20" y="167.77" font-size="8.85" text-anchor="middle" fill="#1a1a1a" stroke="#1a1a1a" stroke-width="0.2">PI3K−Akt signaling pathway</text>
<line x1="369.50" y1="173.00" x2="369.50" y2="250.00" stroke="#f0f0f0" stroke-width="0.6"/>
<line x1="369.50" y1="275.40" x2="369.50" y2="326.20" stroke="#f0f0f0" stroke-width="0.6"/>
<line x1="408.10" y1="173.00" x2="408.10" y2="250.00" stroke="#f0f0f0" stroke-width="0.6"/>
<line x1="408.10" y1="275.40" x2="408.10" y2="326.20" stroke="#f0f0f0" stroke-width="0.6"/>
<line x1="446.80" y1="173.00" x2="446.80" y2="250.00" stroke="#f0f0f0" stroke-width="0.6"/>
<line x1="446.80" y1="275.40" x2="446.80" y2="326.20" stroke="#f0f0f0" stroke-width="0.6"/>
<line x1="350.10" y1="173.00" x2="350.10" y2="250.00" stroke="#f5f5f5" stroke-width="0.4"/>
<line x1="350.10" y1="275.40" x2="350.10" y2="326.20" stroke="#f5f5f5" stroke-width="0.4"/>
<line x1="388.80" y1="173.00" x2="388.80" y2="250.00" stroke="#f5f5f5" stroke-width="0.4"/>
<line x1="388.80" y1="275.40" x2="388.80" y2="326.20" stroke="#f5f5f5" stroke-width="0.4"/>
<line x1="427.40" y1="173.00" x2="427.40" y2="250.00" stroke="#f5f5f5" stroke-width="0.4"/>
<line x1="427.40" y1="275.40" x2="427.40" y2="326.20" stroke="#f5f5f5" stroke-width="0.4"/>
<line x1="466.10" y1="173.00" x2="466.10" y2="250.00" stroke="#f5f5f5" stroke-width="0.4"/>
<line x1="466.10" y1="275.40" x2="466.10" y2="326.20" stroke="#f5f5f5" stroke-width="0.4"/>
<line x1="328.30" y1="177.50" x2="330.80" y2="177.50" stroke="#111" stroke-width="0.9"/>
<text x="324.70" y="180.19" font-size="7.5" text-anchor="end" fill="#1a1a1a" stroke="#1a1a1a" stroke-width="0.2">0.5</text>
<line x1="328.30" y1="189.85" x2="330.80" y2="189.85" stroke="#111" stroke-width="0.9"/>
<text x="324.70" y="192.53" font-size="7.5" text-anchor="end" fill="#1a1a1a" stroke="#1a1a1a" stroke-width="0.2">0.4</text>
<line x1="328.30" y1="202.20" x2="330.80" y2="202.20" stroke="#111" stroke-width="0.9"/>
<text x="324.70" y="204.88" font-size="7.5" text-anchor="end" fill="#1a1a1a" stroke="#1a1a1a" stroke-width="0.2">0.3</text>
<line x1="328.30" y1="214.55" x2="330.80" y2="214.55" stroke="#111" stroke-width="0.9"/>
<text x="324.70" y="217.24" font-size="7.5" text-anchor="end" fill="#1a1a1a" stroke="#1a1a1a" stroke-width="0.2">0.2</text>
<line x1="328.30" y1="226.90" x2="330.80" y2="226.90" stroke="#111" stroke-width="0.9"/>
<text x="324.70" y="229.59" font-size="7.5" text-anchor="end" fill="#1a1a1a" stroke="#1a1a1a" stroke-width="0.2">0.1</text>
<line x1="328.30" y1="239.25" x2="330.80" y2="239.25" stroke="#111" stroke-width="0.9"/>
<text x="324.70" y="241.94" font-size="7.5" text-anchor="end" fill="#1a1a1a" stroke="#1a1a1a" stroke-width="0.2">0.0</text>
<text transform="translate(297.63,208.80) rotate(-90) scale(0.7,1)" font-size="9" text-anchor="middle" fill="#1a1a1a" stroke="#1a1a1a" stroke-width="0.22">Running enrichment</text>
<text transform="translate(308.23,208.80) rotate(-90) scale(0.7,1)" font-size="9" text-anchor="middle" fill="#1a1a1a" stroke="#1a1a1a" stroke-width="0.22">score</text>
<path d="M330.9 239.3 L331.2 235.5 L332.2 231.7 L333.2 230.6 L334.2 226.8 L335.3 227.6 L336.4 224.2 L337.4 223.8 L338.1 226.0 L339.0 225.2 L339.7 223.6 L340.5 220.5 L341.3 217.0 L342.2 211.0 L343.0 207.2 L343.8 205.6 L344.5 199.0 L345.3 194.2 L346.2 189.5 L347.2 186.0 L348.3 184.8 L349.5 183.7 L350.6 181.4 L351.8 179.4 L352.9 178.6 L353.6 177.0 L354.4 176.8 L355.2 177.3 L356.2 176.5 L357.7 176.8 L359.0 177.9 L361.0 178.5 L363.0 178.3 L365.9 179.4 L368.0 180.6 L370.8 182.0 L374.0 184.4 L377.3 187.0 L380.5 189.3 L383.8 191.9 L387.0 194.7 L390.4 197.4 L395.0 201.4 L400.2 205.6 L405.0 209.8 L410.0 213.8 L415.0 217.6 L419.8 221.0 L424.5 223.8 L429.6 226.8 L434.5 229.2 L439.4 231.1 L444.5 232.9 L449.2 234.4 L454.0 235.9 L459.0 237.3 L462.5 238.4 L465.6 239.9 L467.5 240.2 L469.0 241.6 L470.5 242.5 L472.0 243.4 L473.7 244.8 L475.0 244.3 L476.0 245.5 L477.2 244.0 L478.6 243.2 L479.8 243.6 L481.3 240.6 L482.4 241.8 L483.5 241.5 L484.6 240.3 L485.8 239.9" stroke="#48e046" stroke-width="1.2" fill="none" stroke-linejoin="round"/>
<rect x="330.80" y="250.00" width="155.40" height="16.80" fill="#fff"/>
<g filter="url(#bcb)">
<rect x="331.85" y="250" width="1.13" height="16.8" fill="#e8e8e8"/>
<rect x="332.92" y="250" width="0.97" height="16.8" fill="#a8a8a8"/>
<rect x="333.85" y="250" width="1.13" height="16.8" fill="#e4e4e4"/>
<rect x="334.92" y="250" width="2.05" height="16.8" fill="#fdfdfd"/>
<rect x="336.92" y="250" width="1.90" height="16.8" fill="#777"/>
<rect x="338.77" y="250" width="1.28" height="16.8" fill="#0a0a0a"/>
<rect x="340.00" y="250" width="1.90" height="16.8" fill="#444"/>
<rect x="341.85" y="250" width="1.59" height="16.8" fill="#0c0c0c"/>
<rect x="343.38" y="250" width="2.36" height="16.8" fill="#555"/>
<rect x="345.69" y="250" width="3.13" height="16.8" fill="#888"/>
<rect x="348.77" y="250" width="2.36" height="16.8" fill="#080808"/>
<rect x="351.08" y="250" width="1.59" height="16.8" fill="#999"/>
<rect x="352.62" y="250" width="1.90" height="16.8" fill="#333"/>
<rect x="354.46" y="250" width="2.05" height="16.8" fill="#0a0a0a"/>
<rect x="356.46" y="250" width="1.59" height="16.8" fill="#bdbdbd"/>
<rect x="358.00" y="250" width="4.67" height="16.8" fill="#8a8a8a"/>
<rect x="362.62" y="250" width="3.90" height="16.8" fill="#555"/>
<rect x="366.46" y="250" width="1.59" height="16.8" fill="#111"/>
<rect x="368.00" y="250" width="2.36" height="16.8" fill="#dedede"/>
<rect x="370.31" y="250" width="2.67" height="16.8" fill="#c8c8c8"/>
<rect x="372.92" y="250" width="2.51" height="16.8" fill="#0a0a0a"/>
<rect x="375.38" y="250" width="1.90" height="16.8" fill="#cfcfcf"/>
<rect x="377.23" y="250" width="3.90" height="16.8" fill="#888"/>
<rect x="381.08" y="250" width="2.67" height="16.8" fill="#161616"/>
<rect x="383.69" y="250" width="3.59" height="16.8" fill="#555"/>
<rect x="387.23" y="250" width="1.59" height="16.8" fill="#cdcdcd"/>
<rect x="388.77" y="250" width="3.90" height="16.8" fill="#999"/>
<rect x="392.62" y="250" width="1.90" height="16.8" fill="#cfcfcf"/>
<rect x="394.46" y="250" width="2.05" height="16.8" fill="#0c0c0c"/>
<rect x="396.46" y="250" width="2.36" height="16.8" fill="#dcdcdc"/>
<rect x="398.77" y="250" width="3.43" height="16.8" fill="#747474"/>
<rect x="402.15" y="250" width="2.82" height="16.8" fill="#5a5a5a"/>
<rect x="404.92" y="250" width="3.13" height="16.8" fill="#b4b4b4"/>
<rect x="408.00" y="250" width="2.36" height="16.8" fill="#999"/>
<rect x="410.31" y="250" width="2.36" height="16.8" fill="#868686"/>
<rect x="412.62" y="250" width="2.36" height="16.8" fill="#555"/>
<rect x="414.92" y="250" width="1.59" height="16.8" fill="#d4d4d4"/>
<rect x="416.46" y="250" width="1.59" height="16.8" fill="#303030"/>
<rect x="418.00" y="250" width="2.36" height="16.8" fill="#999"/>
<rect x="420.31" y="250" width="3.13" height="16.8" fill="#777"/>
<rect x="423.38" y="250" width="2.36" height="16.8" fill="#bcbcbc"/>
<rect x="425.69" y="250" width="3.13" height="16.8" fill="#0a0a0a"/>
<rect x="428.77" y="250" width="2.36" height="16.8" fill="#555"/>
<rect x="431.08" y="250" width="2.36" height="16.8" fill="#0c0c0c"/>
<rect x="433.38" y="250" width="2.36" height="16.8" fill="#888"/>
<rect x="435.69" y="250" width="2.82" height="16.8" fill="#7c7c7c"/>
<rect x="438.46" y="250" width="2.67" height="16.8" fill="#969696"/>
<rect x="441.08" y="250" width="3.13" height="16.8" fill="#333"/>
<rect x="444.15" y="250" width="1.59" height="16.8" fill="#9a9a9a"/>
<rect x="445.69" y="250" width="3.90" height="16.8" fill="#444"/>
<rect x="449.54" y="250" width="2.36" height="16.8" fill="#eee"/>
<rect x="451.85" y="250" width="3.90" height="16.8" fill="#999"/>
<rect x="455.69" y="250" width="1.28" height="16.8" fill="#d8d8d8"/>
<rect x="456.92" y="250" width="2.67" height="16.8" fill="#333"/>
<rect x="459.54" y="250" width="2.36" height="16.8" fill="#cdcdcd"/>
<rect x="461.85" y="250" width="2.36" height="16.8" fill="#fafafa"/>
<rect x="464.15" y="250" width="1.13" height="16.8" fill="#4a4a4a"/>
<rect x="465.23" y="250" width="0.97" height="16.8" fill="#cfcfcf"/>
<rect x="466.15" y="250" width="1.13" height="16.8" fill="#555"/>
<rect x="467.23" y="250" width="1.59" height="16.8" fill="#e0e0e0"/>
<rect x="468.77" y="250" width="2.36" height="16.8" fill="#888"/>
<rect x="471.08" y="250" width="4.67" height="16.8" fill="#fbfbfb"/>
<rect x="475.69" y="250" width="2.36" height="16.8" fill="#888"/>
<rect x="478.00" y="250" width="2.36" height="16.8" fill="#fbfbfb"/>
<rect x="480.31" y="250" width="1.59" height="16.8" fill="#a8a8a8"/>
<rect x="481.85" y="250" width="2.51" height="16.8" fill="#f0f0f0"/>
</g>
<rect x="330.80" y="266.80" width="5.50" height="8.50" fill="#e02a20"/>
<rect x="336.00" y="266.80" width="7.30" height="8.50" fill="#e4362a"/>
<rect x="343.00" y="266.80" width="8.30" height="8.50" fill="#dc2a20"/>
<rect x="351.00" y="266.80" width="6.30" height="8.50" fill="#e13425"/>
<rect x="357.00" y="266.80" width="6.30" height="8.50" fill="#e53a29"/>
<rect x="363.00" y="266.80" width="5.30" height="8.50" fill="#ea543a"/>
<rect x="368.00" y="266.80" width="6.30" height="8.50" fill="#ef6c4c"/>
<rect x="374.00" y="266.80" width="6.30" height="8.50" fill="#f28463"/>
<rect x="380.00" y="266.80" width="6.30" height="8.50" fill="#f49c7e"/>
<rect x="386.00" y="266.80" width="6.30" height="8.50" fill="#f7b69c"/>
<rect x="392.00" y="266.80" width="7.30" height="8.50" fill="#f9c8b2"/>
<rect x="399.00" y="266.80" width="8.30" height="8.50" fill="#fad6c6"/>
<rect x="407.00" y="266.80" width="8.80" height="8.50" fill="#fbe1d5"/>
<rect x="415.50" y="266.80" width="7.80" height="8.50" fill="#eeeef4"/>
<rect x="423.00" y="266.80" width="9.90" height="8.50" fill="#e4ebf6"/>
<rect x="432.60" y="266.80" width="7.70" height="8.50" fill="#c6d9ee"/>
<rect x="440.00" y="266.80" width="7.30" height="8.50" fill="#b4cfe9"/>
<rect x="447.00" y="266.80" width="7.30" height="8.50" fill="#a0c3e5"/>
<rect x="454.00" y="266.80" width="8.30" height="8.50" fill="#77abdb"/>
<rect x="462.00" y="266.80" width="7.80" height="8.50" fill="#5f9cd5"/>
<rect x="469.50" y="266.80" width="7.80" height="8.50" fill="#3f88cc"/>
<rect x="477.00" y="266.80" width="9.50" height="8.50" fill="#307dc5"/>
<line x1="328.30" y1="283.50" x2="330.80" y2="283.50" stroke="#111" stroke-width="0.9"/>
<text x="324.70" y="286.19" font-size="7.5" text-anchor="end" fill="#1a1a1a" stroke="#1a1a1a" stroke-width="0.2">5.0</text>
<line x1="328.30" y1="293.60" x2="330.80" y2="293.60" stroke="#111" stroke-width="0.9"/>
<text x="324.70" y="296.29" font-size="7.5" text-anchor="end" fill="#1a1a1a" stroke="#1a1a1a" stroke-width="0.2">2.5</text>
<line x1="328.30" y1="303.80" x2="330.80" y2="303.80" stroke="#111" stroke-width="0.9"/>
<text x="324.70" y="306.49" font-size="7.5" text-anchor="end" fill="#1a1a1a" stroke="#1a1a1a" stroke-width="0.2">0.0</text>
<line x1="328.30" y1="314.00" x2="330.80" y2="314.00" stroke="#111" stroke-width="0.9"/>
<text x="324.70" y="316.69" font-size="7.5" text-anchor="end" fill="#1a1a1a" stroke="#1a1a1a" stroke-width="0.2">−2.5</text>
<line x1="328.30" y1="324.20" x2="330.80" y2="324.20" stroke="#111" stroke-width="0.9"/>
<text x="324.70" y="326.88" font-size="7.5" text-anchor="end" fill="#1a1a1a" stroke="#1a1a1a" stroke-width="0.2">−5.0</text>
<line x1="330.80" y1="303.80" x2="486.20" y2="303.80" stroke="#dcdcdc" stroke-width="0.5"/>
<path d="M330.8 303.8 L330.8 285.6 L331.6 288.4 L333.0 290.6 L335.5 293.6 L338.0 295.4 L341.0 297.0 L345.0 298.8 L349.0 300.2 L353.0 301.3 L360.0 302.5 L370.0 303.4 L385.0 303.8 L440.0 303.9 L455.0 304.1 L463.0 304.6 L469.0 305.5 L474.0 306.8 L478.0 308.4 L481.0 310.2 L483.5 312.6 L485.0 315.0 L486.2 318.0 L486.2 303.8 Z" stroke="none" stroke-width="0" fill="#bdbdbd"/>
<text transform="translate(303.03,304.00) rotate(-90) scale(0.7,1)" font-size="9" text-anchor="middle" fill="#1a1a1a" stroke="#1a1a1a" stroke-width="0.22">Ranked list metric</text>
<text x="418.30" y="200.78" font-size="7.5" text-anchor="start" fill="#1a1a1a" stroke="#1a1a1a" stroke-width="0.2">NES 1.44</text>
<text x="418.30" y="209.59" font-size="7.5" text-anchor="start" fill="#1a1a1a" stroke="#1a1a1a" stroke-width="0.2">FDR q-val:0.0247</text>
<text x="346.80" y="290.29" font-size="7.5" text-anchor="start" fill="#1a1a1a" stroke="#1a1a1a" stroke-width="0.2">S100A8</text>
<text x="433.80" y="290.29" font-size="7.5" text-anchor="start" fill="#1a1a1a" stroke="#1a1a1a" stroke-width="0.2">Control</text>
<rect x="330.8" y="173" width="155.4" height="153.3" fill="none" stroke="#000" stroke-width="1.2"/>
<line x1="369.50" y1="326.30" x2="369.50" y2="329.00" stroke="#111" stroke-width="0.9"/>
<text x="369.50" y="339.05" font-size="7.4" text-anchor="middle" fill="#1a1a1a" stroke="#1a1a1a" stroke-width="0.2">5000</text>
<line x1="408.10" y1="326.30" x2="408.10" y2="329.00" stroke="#111" stroke-width="0.9"/>
<text x="408.10" y="339.05" font-size="7.4" text-anchor="middle" fill="#1a1a1a" stroke="#1a1a1a" stroke-width="0.2">10000</text>
<line x1="446.80" y1="326.30" x2="446.80" y2="329.00" stroke="#111" stroke-width="0.9"/>
<text x="446.80" y="339.05" font-size="7.4" text-anchor="middle" fill="#1a1a1a" stroke="#1a1a1a" stroke-width="0.2">15000</text>
<line x1="485.50" y1="326.30" x2="485.50" y2="329.00" stroke="#111" stroke-width="0.9"/>
<text x="485.50" y="339.05" font-size="7.4" text-anchor="middle" fill="#1a1a1a" stroke="#1a1a1a" stroke-width="0.2">20000</text>
<text transform="translate(408.20,351.54) scale(0.775,1)" font-size="8.2" text-anchor="middle" fill="#1a1a1a" stroke="#1a1a1a" stroke-width="0.2">Rank in ordered dataset</text>
<text x="7.2" y="388.1" font-size="10.9" font-weight="bold" fill="#000" stroke="#000" stroke-width="0.5" stroke-linejoin="round">E</text>
<text x="61.50" y="395.99" font-size="7.5" text-anchor="middle" fill="#1a1a1a" stroke="#1a1a1a" stroke-width="0.2">Control</text>
<text x="108.40" y="395.99" font-size="7.5" text-anchor="middle" fill="#1a1a1a" stroke="#1a1a1a" stroke-width="0.2">S100A8</text>
<line x1="42.00" y1="400.20" x2="81.00" y2="400.20" stroke="#000" stroke-width="1.0"/>
<line x1="88.80" y1="400.20" x2="129.00" y2="400.20" stroke="#000" stroke-width="1.0"/>
<text x="37.00" y="413.34" font-size="7.5" text-anchor="end" fill="#1a1a1a" stroke="#1a1a1a" stroke-width="0.2">PI3K</text>
<text x="37.00" y="430.24" font-size="7.5" text-anchor="end" fill="#1a1a1a" stroke="#1a1a1a" stroke-width="0.2">p-PI3K</text>
<text x="37.00" y="447.24" font-size="7.5" text-anchor="end" fill="#1a1a1a" stroke="#1a1a1a" stroke-width="0.2">Akt</text>
<text x="37.00" y="464.13" font-size="7.5" text-anchor="end" fill="#1a1a1a" stroke="#1a1a1a" stroke-width="0.2">p-Akt</text>
<text x="37.00" y="481.04" font-size="7.5" text-anchor="end" fill="#1a1a1a" stroke="#1a1a1a" stroke-width="0.2">β-Actin</text>
<g clip-path="url(#cl1)">
<rect x="40.40" y="404.10" width="90.60" height="12.90" fill="#d2d2d2"/>
<g filter="url(#wb1)">
<rect x="41.4" y="405.8" width="20.4" height="10.0" rx="2.6" fill="#6a6a6a" fill-opacity="0.4"/>
<rect x="41.4" y="408.6" width="20.4" height="2.9" rx="1.4" fill="#050505" fill-opacity="0.85" transform="rotate(2 51.6 410.0)"/>
<rect x="41.8" y="412.7" width="19.6" height="2.3" rx="1.1" fill="#0c0c0c" fill-opacity="0.765" transform="rotate(2 51.6 413.8)"/>
<rect x="63.6" y="405.2" width="20.4" height="10.0" rx="2.6" fill="#6a6a6a" fill-opacity="0.4"/>
<rect x="63.6" y="408.0" width="20.4" height="2.9" rx="1.4" fill="#050505" fill-opacity="0.85" transform="rotate(-3 73.8 409.4)"/>
<rect x="64.0" y="412.1" width="19.6" height="2.3" rx="1.1" fill="#0c0c0c" fill-opacity="0.765" transform="rotate(-3 73.8 413.2)"/>
<rect x="86.4" y="404.3" width="20.4" height="10.0" rx="2.6" fill="#6a6a6a" fill-opacity="0.65"/>
<rect x="86.4" y="407.1" width="20.4" height="2.9" rx="1.4" fill="#050505" fill-opacity="1" transform="rotate(-2 96.6 408.5)"/>
<rect x="86.8" y="411.2" width="19.6" height="2.3" rx="1.1" fill="#0c0c0c" fill-opacity="0.9" transform="rotate(-2 96.6 412.3)"/>
<rect x="109.2" y="404.5" width="20.4" height="10.0" rx="2.6" fill="#6a6a6a" fill-opacity="0.65"/>
<rect x="109.2" y="407.3" width="20.4" height="2.9" rx="1.4" fill="#050505" fill-opacity="1" transform="rotate(1 119.4 408.7)"/>
<rect x="109.6" y="411.4" width="19.6" height="2.3" rx="1.1" fill="#0c0c0c" fill-opacity="0.9" transform="rotate(1 119.4 412.5)"/>
</g></g>
<rect x="40.4" y="404.1" width="90.6" height="12.9" fill="none" stroke="#141414" stroke-width="1"/>
<g clip-path="url(#cl2)">
<rect x="40.40" y="421.00" width="90.60" height="12.90" fill="#e2e2e2"/>
<g filter="url(#wb1)">
<rect x="41.4" y="421.0" width="20.4" height="13.0" rx="2.6" fill="#8a8a8a" fill-opacity="0.4"/>
<rect x="42.0" y="423.3" width="19.2" height="1.8" rx="0.9" fill="#555" fill-opacity="0.45"/>
<rect x="41.4" y="428.5" width="20.4" height="3.0" rx="1.5" fill="#080808" fill-opacity="0.9"/>
<rect x="63.6" y="421.0" width="20.4" height="13.0" rx="2.6" fill="#8a8a8a" fill-opacity="0.4"/>
<rect x="64.2" y="423.3" width="19.2" height="1.8" rx="0.9" fill="#555" fill-opacity="0.45"/>
<rect x="63.6" y="428.7" width="20.4" height="2.6" rx="1.3" fill="#080808" fill-opacity="0.78"/>
<rect x="86.4" y="421.0" width="20.4" height="13.0" rx="2.6" fill="#8a8a8a" fill-opacity="0.4"/>
<rect x="87.0" y="423.3" width="19.2" height="1.8" rx="0.9" fill="#555" fill-opacity="0.45"/>
<rect x="86.4" y="428.7" width="20.4" height="2.6" rx="1.3" fill="#080808" fill-opacity="0.85"/>
<rect x="109.2" y="421.0" width="20.4" height="13.0" rx="2.6" fill="#8a8a8a" fill-opacity="0.4"/>
<rect x="109.8" y="423.3" width="19.2" height="1.8" rx="0.9" fill="#555" fill-opacity="0.45"/>
<rect x="109.2" y="428.0" width="20.4" height="4.0" rx="2.0" fill="#080808" fill-opacity="1.0"/>
</g></g>
<rect x="40.4" y="421.0" width="90.6" height="12.9" fill="none" stroke="#141414" stroke-width="1"/>
<g clip-path="url(#cl3)">
<rect x="40.40" y="438.00" width="90.60" height="12.90" fill="#ebebeb"/>
<g filter="url(#wb2)">
<rect x="41.6" y="443.4" width="17.0" height="2.0" rx="1.0" fill="#4f4f4f" fill-opacity="0.8" transform="rotate(-5 50.1 444.4)"/>
<rect x="54.9" y="442.4" width="6.4" height="1.6" rx="0.8" fill="#666" fill-opacity="0.6"/>
<rect x="65.9" y="441.8" width="16.8" height="2.4" rx="1.2" fill="#333" fill-opacity="0.85" transform="rotate(4 74.3 443.0)"/>
<rect x="64.3" y="443.8" width="6.0" height="1.6" rx="0.8" fill="#666" fill-opacity="0.5"/>
<rect x="87.8" y="441.8" width="17.6" height="3.6" rx="1.8" fill="#484848" fill-opacity="0.8"/>
<rect x="93.6" y="444.8" width="12.0" height="2.0" rx="1.0" fill="#707070" fill-opacity="0.6" transform="rotate(8 99.6 445.8)"/>
<rect x="110.4" y="442.8" width="16.0" height="2.0" rx="1.0" fill="#8c8c8c" fill-opacity="0.65" transform="rotate(6 118.4 443.8)"/>
<rect x="117.4" y="445.6" width="10.0" height="1.6" rx="0.8" fill="#9a9a9a" fill-opacity="0.5"/>
</g></g>
<rect x="40.4" y="438.0" width="90.6" height="12.9" fill="none" stroke="#141414" stroke-width="1"/>
<g clip-path="url(#cl4)">
<rect x="40.40" y="454.90" width="90.60" height="12.90" fill="#d6d6d6"/>
<g filter="url(#wb2)">
<rect x="41.7" y="455.9" width="19.8" height="12.4" rx="2.6" fill="#4c4c4c" fill-opacity="0.68"/>
<rect x="42.3" y="458.0" width="18.6" height="3.8" rx="1.9" fill="#121212" fill-opacity="0.48"/>
<rect x="42.3" y="462.4" width="18.6" height="3.6" rx="1.8" fill="#1c1c1c" fill-opacity="0.36000000000000004"/>
<rect x="63.9" y="455.9" width="19.8" height="12.4" rx="2.6" fill="#4c4c4c" fill-opacity="0.663"/>
<rect x="64.5" y="458.0" width="18.6" height="3.8" rx="1.9" fill="#121212" fill-opacity="0.46799999999999997"/>
<rect x="64.5" y="462.4" width="18.6" height="3.6" rx="1.8" fill="#1c1c1c" fill-opacity="0.35100000000000003"/>
<rect x="86.7" y="455.9" width="19.8" height="12.4" rx="2.6" fill="#4c4c4c" fill-opacity="0.782"/>
<rect x="87.3" y="458.0" width="18.6" height="3.8" rx="1.9" fill="#121212" fill-opacity="0.552"/>
<rect x="87.3" y="462.4" width="18.6" height="3.6" rx="1.8" fill="#1c1c1c" fill-opacity="0.41400000000000003"/>
<rect x="109.5" y="455.9" width="19.8" height="12.4" rx="2.6" fill="#4c4c4c" fill-opacity="0.782"/>
<rect x="110.1" y="458.0" width="18.6" height="3.8" rx="1.9" fill="#121212" fill-opacity="0.552"/>
<rect x="110.1" y="462.4" width="18.6" height="3.6" rx="1.8" fill="#1c1c1c" fill-opacity="0.41400000000000003"/>
</g></g>
<rect x="40.4" y="454.9" width="90.6" height="12.9" fill="none" stroke="#141414" stroke-width="1"/>
<g clip-path="url(#cl5)">
<rect x="40.40" y="471.80" width="90.60" height="12.90" fill="#dcdcdc"/>
<g filter="url(#wb1)">
<rect x="41.2" y="477.3" width="20.8" height="5.0" rx="2.5" fill="#000" fill-opacity="1.0"/>
<rect x="63.4" y="478.3" width="20.8" height="3.8" rx="1.9" fill="#000" fill-opacity="1.0"/>
<rect x="86.2" y="477.7" width="20.8" height="4.2" rx="2.1" fill="#000" fill-opacity="1.0"/>
<rect x="109.0" y="476.3" width="20.8" height="5.6" rx="2.6" fill="#000" fill-opacity="1.0"/>
</g></g>
<rect x="40.4" y="471.8" width="90.6" height="12.9" fill="none" stroke="#141414" stroke-width="1"/>
<text x="147.2" y="388.1" font-size="10.9" font-weight="bold" fill="#000" stroke="#000" stroke-width="0.5" stroke-linejoin="round">F</text>
<text x="202.30" y="395.99" font-size="7.5" text-anchor="middle" fill="#1a1a1a" stroke="#1a1a1a" stroke-width="0.2">Ctrl</text>
<text x="249.10" y="395.99" font-size="7.5" text-anchor="middle" fill="#1a1a1a" stroke="#1a1a1a" stroke-width="0.2">KO</text>
<line x1="182.00" y1="400.20" x2="222.50" y2="400.20" stroke="#000" stroke-width="1.0"/>
<line x1="229.60" y1="400.20" x2="269.00" y2="400.20" stroke="#000" stroke-width="1.0"/>
<text x="177.20" y="413.34" font-size="7.5" text-anchor="end" fill="#1a1a1a" stroke="#1a1a1a" stroke-width="0.2">PI3K</text>
<text x="177.20" y="430.24" font-size="7.5" text-anchor="end" fill="#1a1a1a" stroke="#1a1a1a" stroke-width="0.2">p-PI3K</text>
<text x="177.20" y="447.24" font-size="7.5" text-anchor="end" fill="#1a1a1a" stroke="#1a1a1a" stroke-width="0.2">Akt</text>
<text x="177.20" y="464.13" font-size="7.5" text-anchor="end" fill="#1a1a1a" stroke="#1a1a1a" stroke-width="0.2">p-Akt</text>
<text x="177.20" y="481.04" font-size="7.5" text-anchor="end" fill="#1a1a1a" stroke="#1a1a1a" stroke-width="0.2">β-Actin</text>
<g clip-path="url(#cl6)">
<rect x="180.60" y="404.10" width="90.90" height="12.90" fill="#dedede"/>
<g filter="url(#wb1)">
<rect x="182.1" y="404.1" width="20.4" height="12.0" rx="2.6" fill="#9a9a9a" fill-opacity="0.3"/>
<rect x="181.9" y="407.0" width="20.8" height="4.0" rx="2.0" fill="#040404" fill-opacity="1.0"/>
<rect x="182.4" y="412.4" width="19.8" height="2.2" rx="1.1" fill="#333" fill-opacity="0.7"/>
<rect x="205.1" y="404.1" width="20.4" height="12.0" rx="2.6" fill="#9a9a9a" fill-opacity="0.3"/>
<rect x="204.9" y="407.0" width="20.8" height="4.0" rx="2.0" fill="#040404" fill-opacity="1.0"/>
<rect x="205.4" y="412.4" width="19.8" height="2.2" rx="1.1" fill="#333" fill-opacity="0.7"/>
<rect x="227.5" y="404.1" width="20.4" height="12.0" rx="2.6" fill="#9a9a9a" fill-opacity="0.3"/>
<rect x="227.3" y="407.0" width="20.8" height="4.0" rx="2.0" fill="#040404" fill-opacity="1.0"/>
<rect x="227.8" y="412.4" width="19.8" height="2.2" rx="1.1" fill="#333" fill-opacity="0.7"/>
<rect x="250.2" y="404.1" width="20.4" height="12.0" rx="2.6" fill="#9a9a9a" fill-opacity="0.3"/>
<rect x="250.0" y="407.0" width="20.8" height="4.0" rx="2.0" fill="#040404" fill-opacity="1.0"/>
<rect x="250.5" y="412.4" width="19.8" height="2.2" rx="1.1" fill="#333" fill-opacity="0.7"/>
</g></g>
<rect x="180.6" y="404.1" width="90.9" height="12.9" fill="none" stroke="#141414" stroke-width="1"/>
<g clip-path="url(#cl7)">
<rect x="180.60" y="421.00" width="90.90" height="12.90" fill="#d6d6d6"/>
<g filter="url(#wb1)">
<rect x="181.7" y="421.0" width="21.2" height="13.0" rx="2.6" fill="#9a9a9a" fill-opacity="0.45"/>
<rect x="182.6" y="423.4" width="19.4" height="2.0" rx="1.0" fill="#666" fill-opacity="0.35"/>
<rect x="182.1" y="428.4" width="20.4" height="3.2" rx="1.6" fill="#070707" fill-opacity="0.98"/>
<rect x="204.7" y="421.0" width="21.2" height="13.0" rx="2.6" fill="#9a9a9a" fill-opacity="0.45"/>
<rect x="205.6" y="423.4" width="19.4" height="2.0" rx="1.0" fill="#666" fill-opacity="0.35"/>
<rect x="205.1" y="428.4" width="20.4" height="3.2" rx="1.6" fill="#070707" fill-opacity="0.9"/>
<rect x="227.1" y="421.0" width="21.2" height="13.0" rx="2.6" fill="#9a9a9a" fill-opacity="0.45"/>
<rect x="228.0" y="423.4" width="19.4" height="2.0" rx="1.0" fill="#666" fill-opacity="0.35"/>
<rect x="227.5" y="428.4" width="20.4" height="3.2" rx="1.6" fill="#070707" fill-opacity="0.2"/>
<rect x="249.8" y="421.0" width="21.2" height="13.0" rx="2.6" fill="#9a9a9a" fill-opacity="0.45"/>
<rect x="250.7" y="423.4" width="19.4" height="2.0" rx="1.0" fill="#666" fill-opacity="0.35"/>
<rect x="250.2" y="428.4" width="20.4" height="3.2" rx="1.6" fill="#070707" fill-opacity="0.14"/>
<rect x="192.7" y="427.6" width="5.2" height="3.2" rx="1.6" fill="#000" fill-opacity="0.7"/>
</g></g>
<rect x="180.6" y="421.0" width="90.9" height="12.9" fill="none" stroke="#141414" stroke-width="1"/>
<g clip-path="url(#cl8)">
<rect x="180.60" y="438.00" width="90.90" height="12.90" fill="#d9d9d9"/>
<g filter="url(#wb1)">
<rect x="181.7" y="438.0" width="21.2" height="13.0" rx="2.6" fill="#9a9a9a" fill-opacity="0.55"/>
<rect x="181.8" y="444.6" width="21.0" height="3.5" rx="1.8" fill="#060606" fill-opacity="1.0" transform="rotate(-2 192.3 446.3)"/>
<rect x="204.7" y="438.0" width="21.2" height="13.0" rx="2.6" fill="#9a9a9a" fill-opacity="0.55"/>
<rect x="204.8" y="443.9" width="21.0" height="3.5" rx="1.8" fill="#060606" fill-opacity="1.0" transform="rotate(-3 215.3 445.7)"/>
<rect x="227.1" y="438.0" width="21.2" height="13.0" rx="2.6" fill="#9a9a9a" fill-opacity="0.55"/>
<rect x="227.2" y="443.1" width="21.0" height="3.5" rx="1.8" fill="#060606" fill-opacity="1.0"/>
<rect x="249.8" y="438.0" width="21.2" height="13.0" rx="2.6" fill="#9a9a9a" fill-opacity="0.55"/>
<rect x="249.9" y="443.4" width="21.0" height="3.5" rx="1.8" fill="#060606" fill-opacity="1.0" transform="rotate(1 260.4 445.2)"/>
</g></g>
<rect x="180.6" y="438.0" width="90.9" height="12.9" fill="none" stroke="#141414" stroke-width="1"/>
<g clip-path="url(#cl9)">
<rect x="180.60" y="454.90" width="90.90" height="12.90" fill="#d2d2d2"/>
<g filter="url(#wb2)">
<rect x="182.3" y="455.3" width="20.0" height="12.8" rx="2.6" fill="#5c5c5c" fill-opacity="0.76"/>
<rect x="182.7" y="460.0" width="19.2" height="4.6" rx="2.3" fill="#0e0e0e" fill-opacity="0.6839999999999999"/>
<rect x="188.3" y="457.8" width="12.0" height="2.6" rx="1.3" fill="#1a1a1a" fill-opacity="0.4275"/>
<rect x="205.3" y="455.3" width="20.0" height="12.8" rx="2.6" fill="#5c5c5c" fill-opacity="0.76"/>
<rect x="205.7" y="460.0" width="19.2" height="4.6" rx="2.3" fill="#0e0e0e" fill-opacity="0.6839999999999999"/>
<rect x="211.3" y="457.8" width="12.0" height="2.6" rx="1.3" fill="#1a1a1a" fill-opacity="0.4275"/>
<rect x="227.7" y="455.3" width="20.0" height="12.8" rx="2.6" fill="#5c5c5c" fill-opacity="0.6400000000000001"/>
<rect x="228.1" y="460.0" width="19.2" height="4.6" rx="2.3" fill="#0e0e0e" fill-opacity="0.576"/>
<rect x="233.7" y="457.8" width="12.0" height="2.6" rx="1.3" fill="#1a1a1a" fill-opacity="0.36000000000000004"/>
<rect x="250.4" y="455.3" width="20.0" height="12.8" rx="2.6" fill="#5c5c5c" fill-opacity="0.5599999999999999"/>
<rect x="250.8" y="460.0" width="19.2" height="4.6" rx="2.3" fill="#0e0e0e" fill-opacity="0.504"/>
<rect x="256.4" y="457.8" width="12.0" height="2.6" rx="1.3" fill="#1a1a1a" fill-opacity="0.315"/>
</g></g>
<rect x="180.6" y="454.9" width="90.9" height="12.9" fill="none" stroke="#141414" stroke-width="1"/>
<g clip-path="url(#cl10)">
<rect x="180.60" y="471.80" width="90.90" height="12.90" fill="#dadada"/>
<g filter="url(#wb1)">
<rect x="181.8" y="477.7" width="21.0" height="2.9" rx="1.4" fill="#000" fill-opacity="1.0"/>
<rect x="204.8" y="477.7" width="21.0" height="2.9" rx="1.4" fill="#000" fill-opacity="1.0"/>
<rect x="227.2" y="477.7" width="21.0" height="2.9" rx="1.4" fill="#000" fill-opacity="1.0"/>
<rect x="249.9" y="477.7" width="21.0" height="2.9" rx="1.4" fill="#000" fill-opacity="1.0"/>
</g></g>
<rect x="180.6" y="471.8" width="90.9" height="12.9" fill="none" stroke="#141414" stroke-width="1"/>
<text x="286.8" y="388.1" font-size="10.9" font-weight="bold" fill="#000" stroke="#000" stroke-width="0.5" stroke-linejoin="round">G</text>
<line x1="336.25" y1="437.50" x2="336.25" y2="439.80" stroke="#d81e3f" stroke-width="0.9"/>
<line x1="334.15" y1="437.50" x2="338.35" y2="437.50" stroke="#d81e3f" stroke-width="0.9"/>
<rect x="332.50" y="439.30" width="7.50" height="31.50" fill="#d81e3f"/>
<line x1="349.25" y1="420.00" x2="349.25" y2="426.30" stroke="#1d5a96" stroke-width="0.9"/>
<line x1="347.15" y1="420.00" x2="351.35" y2="420.00" stroke="#1d5a96" stroke-width="0.9"/>
<rect x="345.50" y="425.80" width="7.50" height="45.00" fill="#1d5a96"/>
<line x1="370.05" y1="434.50" x2="370.05" y2="439.80" stroke="#d81e3f" stroke-width="0.9"/>
<line x1="367.95" y1="434.50" x2="372.15" y2="434.50" stroke="#d81e3f" stroke-width="0.9"/>
<rect x="366.30" y="439.30" width="7.50" height="31.50" fill="#d81e3f"/>
<line x1="383.15" y1="413.00" x2="383.15" y2="421.80" stroke="#1d5a96" stroke-width="0.9"/>
<line x1="381.05" y1="413.00" x2="385.25" y2="413.00" stroke="#1d5a96" stroke-width="0.9"/>
<rect x="379.30" y="421.30" width="7.70" height="49.50" fill="#1d5a96"/>
<line x1="325.80" y1="404.50" x2="325.80" y2="471.20" stroke="#111" stroke-width="1.25"/>
<line x1="325.40" y1="470.80" x2="391.20" y2="470.80" stroke="#111" stroke-width="1.25"/>
<line x1="323.40" y1="407.00" x2="325.80" y2="407.00" stroke="#111" stroke-width="1.0"/>
<text x="322.00" y="409.86" font-size="8" text-anchor="end" fill="#1a1a1a" stroke="#1a1a1a" stroke-width="0.2">2.0</text>
<line x1="323.40" y1="423.00" x2="325.80" y2="423.00" stroke="#111" stroke-width="1.0"/>
<text x="322.00" y="425.86" font-size="8" text-anchor="end" fill="#1a1a1a" stroke="#1a1a1a" stroke-width="0.2">1.5</text>
<line x1="323.40" y1="438.90" x2="325.80" y2="438.90" stroke="#111" stroke-width="1.0"/>
<text x="322.00" y="441.76" font-size="8" text-anchor="end" fill="#1a1a1a" stroke="#1a1a1a" stroke-width="0.2">1.0</text>
<line x1="323.40" y1="454.90" x2="325.80" y2="454.90" stroke="#111" stroke-width="1.0"/>
<text x="322.00" y="457.76" font-size="8" text-anchor="end" fill="#1a1a1a" stroke="#1a1a1a" stroke-width="0.2">0.5</text>
<line x1="323.40" y1="470.80" x2="325.80" y2="470.80" stroke="#111" stroke-width="1.0"/>
<text x="322.00" y="473.66" font-size="8" text-anchor="end" fill="#1a1a1a" stroke="#1a1a1a" stroke-width="0.2">0.0</text>
<line x1="342.60" y1="470.80" x2="342.60" y2="473.10" stroke="#111" stroke-width="1.0"/>
<text x="342.60" y="483.92" font-size="7.6" text-anchor="middle" fill="#1a1a1a" stroke="#1a1a1a" stroke-width="0.2">p-PI3K</text>
<line x1="376.40" y1="470.80" x2="376.40" y2="473.10" stroke="#111" stroke-width="1.0"/>
<text x="376.40" y="483.92" font-size="7.6" text-anchor="middle" fill="#1a1a1a" stroke="#1a1a1a" stroke-width="0.2">p-Akt</text>
<line x1="335.50" y1="415.00" x2="349.50" y2="415.00" stroke="#111" stroke-width="0.8"/>
<text x="342.50" y="414.68" font-size="7.2" text-anchor="middle" fill="#1a1a1a" stroke="#1a1a1a" stroke-width="0.2">*</text>
<line x1="370.50" y1="410.00" x2="384.50" y2="410.00" stroke="#111" stroke-width="0.8"/>
<text x="377.50" y="409.68" font-size="7.2" text-anchor="middle" fill="#1a1a1a" stroke="#1a1a1a" stroke-width="0.2">*</text>
<text transform="translate(295.38,437.20) rotate(-90) scale(0.68,1)" font-size="8.8" text-anchor="middle" fill="#1a1a1a" stroke="#1a1a1a" stroke-width="0.22">Relative expression</text>
<text transform="translate(306.68,437.20) rotate(-90) scale(0.68,1)" font-size="8.8" text-anchor="middle" fill="#1a1a1a" stroke="#1a1a1a" stroke-width="0.22">(VS. total protein)</text>
<rect x="324.50" y="490.50" width="5.60" height="5.70" fill="#d81e3f"/>
<text x="332.60" y="496.12" font-size="7.6" text-anchor="start" fill="#1a1a1a" stroke="#1a1a1a" stroke-width="0.2">Control</text>
<rect x="361.70" y="490.50" width="5.60" height="5.70" fill="#1d5a96"/>
<text x="369.60" y="496.12" font-size="7.6" text-anchor="start" fill="#1a1a1a" stroke="#1a1a1a" stroke-width="0.2">S100A8</text>
<line x1="454.00" y1="420.50" x2="454.00" y2="424.80" stroke="#d81e3f" stroke-width="0.9"/>
<line x1="451.90" y1="420.50" x2="456.10" y2="420.50" stroke="#d81e3f" stroke-width="0.9"/>
<rect x="450.00" y="424.30" width="8.00" height="46.50" fill="#d81e3f"/>
<line x1="466.90" y1="451.30" x2="466.90" y2="456.80" stroke="#1d5a96" stroke-width="0.9"/>
<line x1="464.80" y1="451.30" x2="469.00" y2="451.30" stroke="#1d5a96" stroke-width="0.9"/>
<rect x="463.00" y="456.30" width="7.80" height="14.50" fill="#1d5a96"/>
<line x1="487.80" y1="424.50" x2="487.80" y2="428.80" stroke="#d81e3f" stroke-width="0.9"/>
<line x1="485.70" y1="424.50" x2="489.90" y2="424.50" stroke="#d81e3f" stroke-width="0.9"/>
<rect x="483.80" y="428.30" width="8.00" height="42.50" fill="#d81e3f"/>
<line x1="501.00" y1="437.50" x2="501.00" y2="443.00" stroke="#1d5a96" stroke-width="0.9"/>
<line x1="498.90" y1="437.50" x2="503.10" y2="437.50" stroke="#1d5a96" stroke-width="0.9"/>
<rect x="497.00" y="442.50" width="8.00" height="28.30" fill="#1d5a96"/>
<line x1="445.50" y1="404.50" x2="445.50" y2="471.20" stroke="#111" stroke-width="1.25"/>
<line x1="445.10" y1="470.80" x2="508.80" y2="470.80" stroke="#111" stroke-width="1.25"/>
<line x1="443.10" y1="406.80" x2="445.50" y2="406.80" stroke="#111" stroke-width="1.0"/>
<text x="441.30" y="409.66" font-size="8" text-anchor="end" fill="#1a1a1a" stroke="#1a1a1a" stroke-width="0.2">1.5</text>
<line x1="443.10" y1="428.10" x2="445.50" y2="428.10" stroke="#111" stroke-width="1.0"/>
<text x="441.30" y="430.96" font-size="8" text-anchor="end" fill="#1a1a1a" stroke="#1a1a1a" stroke-width="0.2">1.0</text>
<line x1="443.10" y1="449.50" x2="445.50" y2="449.50" stroke="#111" stroke-width="1.0"/>
<text x="441.30" y="452.36" font-size="8" text-anchor="end" fill="#1a1a1a" stroke="#1a1a1a" stroke-width="0.2">0.5</text>
<line x1="443.10" y1="470.80" x2="445.50" y2="470.80" stroke="#111" stroke-width="1.0"/>
<text x="441.30" y="473.66" font-size="8" text-anchor="end" fill="#1a1a1a" stroke="#1a1a1a" stroke-width="0.2">0.0</text>
<line x1="460.20" y1="470.80" x2="460.20" y2="473.10" stroke="#111" stroke-width="1.0"/>
<text x="460.20" y="483.92" font-size="7.6" text-anchor="middle" fill="#1a1a1a" stroke="#1a1a1a" stroke-width="0.2">p-PI3K</text>
<line x1="494.60" y1="470.80" x2="494.60" y2="473.10" stroke="#111" stroke-width="1.0"/>
<text x="494.60" y="483.92" font-size="7.6" text-anchor="middle" fill="#1a1a1a" stroke="#1a1a1a" stroke-width="0.2">p-Akt</text>
<line x1="453.00" y1="416.80" x2="467.00" y2="416.80" stroke="#111" stroke-width="0.8"/>
<text x="460.00" y="416.48" font-size="7.2" text-anchor="middle" fill="#1a1a1a" stroke="#1a1a1a" stroke-width="0.2">***</text>
<line x1="488.80" y1="420.80" x2="503.00" y2="420.80" stroke="#111" stroke-width="0.8"/>
<text x="495.90" y="420.48" font-size="7.2" text-anchor="middle" fill="#1a1a1a" stroke="#1a1a1a" stroke-width="0.2">**</text>
<text transform="translate(412.88,437.20) rotate(-90) scale(0.68,1)" font-size="8.8" text-anchor="middle" fill="#1a1a1a" stroke="#1a1a1a" stroke-width="0.22">Relative expression</text>
<text transform="translate(424.18,437.20) rotate(-90) scale(0.68,1)" font-size="8.8" text-anchor="middle" fill="#1a1a1a" stroke="#1a1a1a" stroke-width="0.22">(VS. total protein)</text>
<rect x="455.50" y="490.50" width="5.60" height="5.70" fill="#d81e3f"/>
<text x="464.30" y="496.12" font-size="7.6" text-anchor="start" fill="#1a1a1a" stroke="#1a1a1a" stroke-width="0.2">Ctrl</text>
<rect x="481.80" y="490.50" width="5.60" height="5.70" fill="#1d5a96"/>
<text x="490.10" y="496.12" font-size="7.6" text-anchor="start" fill="#1a1a1a" stroke="#1a1a1a" stroke-width="0.2">KO</text>
<text x="6.9" y="521.9" font-size="10.9" font-weight="bold" fill="#000" stroke="#000" stroke-width="0.5" stroke-linejoin="round">H</text>
<rect x="45.10" y="570.84" width="8.50" height="54.16" fill="#6f9cc6"/>
<rect x="59.30" y="591.21" width="8.60" height="33.79" fill="#ee8b9b"/>
<rect x="83.20" y="564.06" width="8.80" height="60.94" fill="#6f9cc6"/>
<rect x="97.10" y="600.54" width="8.90" height="24.46" fill="#ee8b9b"/>
<line x1="38.00" y1="552.10" x2="38.00" y2="625.40" stroke="#111" stroke-width="1.25"/>
<line x1="37.60" y1="625.00" x2="111.20" y2="625.00" stroke="#111" stroke-width="1.25"/>
<line x1="35.60" y1="625.00" x2="38.00" y2="625.00" stroke="#111" stroke-width="1.0"/>
<text x="33.80" y="627.86" font-size="8" text-anchor="end" fill="#1a1a1a" stroke="#1a1a1a" stroke-width="0.2">0</text>
<line x1="35.60" y1="610.86" x2="38.00" y2="610.86" stroke="#111" stroke-width="1.0"/>
<text x="33.80" y="613.72" font-size="8" text-anchor="end" fill="#1a1a1a" stroke="#1a1a1a" stroke-width="0.2">10</text>
<line x1="35.60" y1="596.72" x2="38.00" y2="596.72" stroke="#111" stroke-width="1.0"/>
<text x="33.80" y="599.58" font-size="8" text-anchor="end" fill="#1a1a1a" stroke="#1a1a1a" stroke-width="0.2">20</text>
<line x1="35.60" y1="582.58" x2="38.00" y2="582.58" stroke="#111" stroke-width="1.0"/>
<text x="33.80" y="585.44" font-size="8" text-anchor="end" fill="#1a1a1a" stroke="#1a1a1a" stroke-width="0.2">30</text>
<line x1="35.60" y1="568.44" x2="38.00" y2="568.44" stroke="#111" stroke-width="1.0"/>
<text x="33.80" y="571.30" font-size="8" text-anchor="end" fill="#1a1a1a" stroke="#1a1a1a" stroke-width="0.2">40</text>
<line x1="35.60" y1="554.30" x2="38.00" y2="554.30" stroke="#111" stroke-width="1.0"/>
<text x="33.80" y="557.16" font-size="8" text-anchor="end" fill="#1a1a1a" stroke="#1a1a1a" stroke-width="0.2">50</text>
<line x1="55.60" y1="625.00" x2="55.60" y2="627.30" stroke="#111" stroke-width="1.0"/>
<text x="55.60" y="637.72" font-size="7.6" text-anchor="middle" fill="#1a1a1a" stroke="#1a1a1a" stroke-width="0.2">Control</text>
<line x1="95.20" y1="625.00" x2="95.20" y2="627.30" stroke="#111" stroke-width="1.0"/>
<text x="95.20" y="637.72" font-size="7.6" text-anchor="middle" fill="#1a1a1a" stroke="#1a1a1a" stroke-width="0.2">S100A8</text>
<circle cx="46.50" cy="570.20" r="1.15" fill="#fff" fill-opacity="0.6" stroke="#1f66b0" stroke-width="1.0"/>
<circle cx="49.70" cy="569.90" r="1.15" fill="#fff" fill-opacity="0.6" stroke="#1f66b0" stroke-width="1.0"/>
<circle cx="52.70" cy="570.20" r="1.15" fill="#fff" fill-opacity="0.6" stroke="#1f66b0" stroke-width="1.0"/>
<circle cx="48.20" cy="570.60" r="1.15" fill="#fff" fill-opacity="0.6" stroke="#1f66b0" stroke-width="1.0"/>
<circle cx="60.80" cy="590.70" r="1.15" fill="#fff" fill-opacity="0.6" stroke="#df1c38" stroke-width="1.0"/>
<circle cx="63.90" cy="590.10" r="1.15" fill="#fff" fill-opacity="0.6" stroke="#df1c38" stroke-width="1.0"/>
<circle cx="67.20" cy="590.10" r="1.15" fill="#fff" fill-opacity="0.6" stroke="#df1c38" stroke-width="1.0"/>
<circle cx="62.40" cy="590.90" r="1.15" fill="#fff" fill-opacity="0.6" stroke="#df1c38" stroke-width="1.0"/>
<circle cx="84.70" cy="563.70" r="1.15" fill="#fff" fill-opacity="0.6" stroke="#1f66b0" stroke-width="1.0"/>
<circle cx="87.10" cy="562.20" r="1.15" fill="#fff" fill-opacity="0.6" stroke="#1f66b0" stroke-width="1.0"/>
<circle cx="90.30" cy="562.20" r="1.15" fill="#fff" fill-opacity="0.6" stroke="#1f66b0" stroke-width="1.0"/>
<circle cx="86.40" cy="564.50" r="1.15" fill="#fff" fill-opacity="0.6" stroke="#1f66b0" stroke-width="1.0"/>
<circle cx="98.50" cy="598.90" r="1.15" fill="#fff" fill-opacity="0.6" stroke="#df1c38" stroke-width="1.0"/>
<circle cx="101.30" cy="598.70" r="1.15" fill="#fff" fill-opacity="0.6" stroke="#df1c38" stroke-width="1.0"/>
<circle cx="104.60" cy="599.70" r="1.15" fill="#fff" fill-opacity="0.6" stroke="#df1c38" stroke-width="1.0"/>
<circle cx="99.40" cy="601.80" r="1.15" fill="#fff" fill-opacity="0.6" stroke="#df1c38" stroke-width="1.0"/>
<circle cx="103.40" cy="601.50" r="1.15" fill="#fff" fill-opacity="0.6" stroke="#df1c38" stroke-width="1.0"/>
<path d="M48.70 566.60V564.00H62.90V587.60" stroke="#0c0c0c" stroke-width="0.95" fill="none"/>
<text x="55.80" y="563.78" font-size="7.2" text-anchor="middle" fill="#1a1a1a" stroke="#1a1a1a" stroke-width="0.2">***</text>
<path d="M87.50 560.00V556.00H100.90V596.10" stroke="#0c0c0c" stroke-width="0.95" fill="none"/>
<text x="94.20" y="555.98" font-size="7.2" text-anchor="middle" fill="#1a1a1a" stroke="#1a1a1a" stroke-width="0.2">***</text>
<path d="M55.50 551.20V541.80H95.00V545.80" stroke="#0c0c0c" stroke-width="0.95" fill="none"/>
<text x="75.25" y="541.58" font-size="7.2" text-anchor="middle" fill="#1a1a1a" stroke="#1a1a1a" stroke-width="0.2">*</text>
<text transform="translate(20.58,590.25) rotate(-90) scale(0.68,1)" font-size="8.8" text-anchor="middle" fill="#1a1a1a" stroke="#1a1a1a" stroke-width="0.22">BrdU<tspan dy="-3" font-size="5.6">+</tspan><tspan dy="3"> cells of Kasumi-1</tspan></text>
<text x="6.80" y="648.45" font-size="7.4" text-anchor="start" fill="#1a1a1a" stroke="#1a1a1a" stroke-width="0.2">LY294002</text>
<line x1="47.50" y1="645.80" x2="50.90" y2="645.80" stroke="#222" stroke-width="0.8"/>
<line x1="61.60" y1="645.80" x2="65.00" y2="645.80" stroke="#222" stroke-width="0.8"/>
<line x1="63.30" y1="644.00" x2="63.30" y2="647.60" stroke="#222" stroke-width="0.8"/>
<line x1="85.80" y1="645.80" x2="89.20" y2="645.80" stroke="#222" stroke-width="0.8"/>
<line x1="99.70" y1="645.80" x2="103.10" y2="645.80" stroke="#222" stroke-width="0.8"/>
<line x1="101.40" y1="644.00" x2="101.40" y2="647.60" stroke="#222" stroke-width="0.8"/>
<text x="126" y="521.9" font-size="10.9" font-weight="bold" fill="#000" stroke="#000" stroke-width="0.5" stroke-linejoin="round">I</text>
<text x="195.50" y="546.42" font-size="9" text-anchor="middle" fill="#1a1a1a" stroke="#1a1a1a" stroke-width="0.2">AML</text>
<rect x="162.00" y="591.80" width="9.30" height="33.20" fill="#ee8b9b"/>
<rect x="177.50" y="604.50" width="9.30" height="20.50" fill="#6f9cc6"/>
<rect x="204.50" y="577.00" width="9.30" height="48.00" fill="#ee8b9b"/>
<rect x="220.50" y="587.50" width="9.10" height="37.50" fill="#6f9cc6"/>
<line x1="155.00" y1="553.00" x2="155.00" y2="625.40" stroke="#111" stroke-width="1.25"/>
<line x1="154.60" y1="625.00" x2="237.50" y2="625.00" stroke="#111" stroke-width="1.25"/>
<line x1="152.60" y1="555.50" x2="155.00" y2="555.50" stroke="#111" stroke-width="1.0"/>
<text x="150.80" y="558.36" font-size="8" text-anchor="end" fill="#1a1a1a" stroke="#1a1a1a" stroke-width="0.2">2.5</text>
<line x1="152.60" y1="569.40" x2="155.00" y2="569.40" stroke="#111" stroke-width="1.0"/>
<text x="150.80" y="572.26" font-size="8" text-anchor="end" fill="#1a1a1a" stroke="#1a1a1a" stroke-width="0.2">2.0</text>
<line x1="152.60" y1="583.30" x2="155.00" y2="583.30" stroke="#111" stroke-width="1.0"/>
<text x="150.80" y="586.16" font-size="8" text-anchor="end" fill="#1a1a1a" stroke="#1a1a1a" stroke-width="0.2">1.5</text>
<line x1="152.60" y1="597.20" x2="155.00" y2="597.20" stroke="#111" stroke-width="1.0"/>
<text x="150.80" y="600.06" font-size="8" text-anchor="end" fill="#1a1a1a" stroke="#1a1a1a" stroke-width="0.2">1.0</text>
<line x1="152.60" y1="611.10" x2="155.00" y2="611.10" stroke="#111" stroke-width="1.0"/>
<text x="150.80" y="613.96" font-size="8" text-anchor="end" fill="#1a1a1a" stroke="#1a1a1a" stroke-width="0.2">0.5</text>
<line x1="152.60" y1="625.00" x2="155.00" y2="625.00" stroke="#111" stroke-width="1.0"/>
<text x="150.80" y="627.86" font-size="8" text-anchor="end" fill="#1a1a1a" stroke="#1a1a1a" stroke-width="0.2">0.0</text>
<line x1="166.65" y1="582.50" x2="166.65" y2="600.50" stroke="#c8102e" stroke-width="0.8"/>
<line x1="164.45" y1="582.50" x2="168.85" y2="582.50" stroke="#c8102e" stroke-width="0.8"/>
<line x1="164.45" y1="600.50" x2="168.85" y2="600.50" stroke="#c8102e" stroke-width="0.8"/>
<line x1="182.15" y1="596.80" x2="182.15" y2="612.00" stroke="#1d5a96" stroke-width="0.8"/>
<line x1="179.95" y1="596.80" x2="184.35" y2="596.80" stroke="#1d5a96" stroke-width="0.8"/>
<line x1="179.95" y1="612.00" x2="184.35" y2="612.00" stroke="#1d5a96" stroke-width="0.8"/>
<line x1="209.15" y1="569.30" x2="209.15" y2="584.30" stroke="#c8102e" stroke-width="0.8"/>
<line x1="206.95" y1="569.30" x2="211.35" y2="569.30" stroke="#c8102e" stroke-width="0.8"/>
<line x1="206.95" y1="584.30" x2="211.35" y2="584.30" stroke="#c8102e" stroke-width="0.8"/>
<line x1="225.05" y1="583.80" x2="225.05" y2="591.30" stroke="#1d5a96" stroke-width="0.8"/>
<line x1="222.85" y1="583.80" x2="227.25" y2="583.80" stroke="#1d5a96" stroke-width="0.8"/>
<line x1="222.85" y1="591.30" x2="227.25" y2="591.30" stroke="#1d5a96" stroke-width="0.8"/>
<circle cx="166.25" cy="580.50" r="1.40" fill="#c8102e"/>
<circle cx="165.00" cy="588.00" r="1.40" fill="#c8102e"/>
<circle cx="168.00" cy="590.50" r="1.40" fill="#c8102e"/>
<circle cx="166.25" cy="596.25" r="1.40" fill="#c8102e"/>
<circle cx="166.75" cy="600.50" r="1.40" fill="#c8102e"/>
<circle cx="180.50" cy="596.25" r="1.40" fill="#1d5a96"/>
<circle cx="185.00" cy="597.50" r="1.40" fill="#1d5a96"/>
<circle cx="179.50" cy="605.00" r="1.40" fill="#1d5a96"/>
<circle cx="183.75" cy="606.25" r="1.40" fill="#1d5a96"/>
<circle cx="182.00" cy="611.25" r="1.40" fill="#1d5a96"/>
<circle cx="209.50" cy="568.00" r="1.40" fill="#c8102e"/>
<circle cx="208.75" cy="576.25" r="1.40" fill="#c8102e"/>
<circle cx="211.25" cy="577.00" r="1.40" fill="#c8102e"/>
<circle cx="212.50" cy="581.25" r="1.40" fill="#c8102e"/>
<circle cx="208.00" cy="583.75" r="1.40" fill="#c8102e"/>
<circle cx="223.75" cy="582.50" r="1.40" fill="#1d5a96"/>
<circle cx="227.50" cy="584.25" r="1.40" fill="#1d5a96"/>
<circle cx="225.00" cy="587.00" r="1.40" fill="#1d5a96"/>
<circle cx="226.25" cy="589.50" r="1.40" fill="#1d5a96"/>
<circle cx="223.25" cy="588.75" r="1.40" fill="#1d5a96"/>
<line x1="166.30" y1="576.60" x2="183.00" y2="576.60" stroke="#111" stroke-width="0.8"/>
<text x="174.65" y="576.48" font-size="7.2" text-anchor="middle" fill="#1a1a1a" stroke="#1a1a1a" stroke-width="0.2">*</text>
<line x1="208.80" y1="565.80" x2="225.00" y2="565.80" stroke="#111" stroke-width="0.8"/>
<text x="216.90" y="565.68" font-size="7.2" text-anchor="middle" fill="#1a1a1a" stroke="#1a1a1a" stroke-width="0.2">*</text>
<line x1="175.00" y1="625.00" x2="175.00" y2="627.30" stroke="#111" stroke-width="1.0"/>
<text x="175.00" y="637.12" font-size="7.6" text-anchor="middle" fill="#1a1a1a">YFP<tspan dy="-3" font-size="5.4">+</tspan></text>
<line x1="217.00" y1="625.00" x2="217.00" y2="627.30" stroke="#111" stroke-width="1.0"/>
<text x="217.00" y="637.12" font-size="7.6" text-anchor="middle" fill="#1a1a1a" stroke="#1a1a1a" stroke-width="0.2">LSC</text>
<text transform="translate(134.18,585.60) rotate(-90) scale(0.765,1)" font-size="8.8" text-anchor="middle" fill="#1a1a1a" stroke="#1a1a1a" stroke-width="0.22">Relative ROS MFI</text>
<rect x="173.60" y="644.70" width="5.90" height="5.90" fill="#d81e3f"/>
<text x="182.40" y="650.25" font-size="7.4" text-anchor="start" fill="#1a1a1a" stroke="#1a1a1a" stroke-width="0.2">Ctrl</text>
<rect x="199.60" y="644.70" width="5.90" height="5.90" fill="#1d5a96"/>
<text x="208.40" y="650.25" font-size="7.4" text-anchor="start" fill="#1a1a1a" stroke="#1a1a1a" stroke-width="0.2">KO</text>
<text x="251.2" y="521.9" font-size="10.9" font-weight="bold" fill="#000" stroke="#000" stroke-width="0.5" stroke-linejoin="round">J</text>
<text x="320.50" y="546.42" font-size="9" text-anchor="middle" fill="#1a1a1a" stroke="#1a1a1a" stroke-width="0.2">AML</text>
<rect x="287.50" y="587.00" width="9.30" height="38.00" fill="#ee8b9b"/>
<rect x="303.00" y="597.00" width="9.50" height="28.00" fill="#6f9cc6"/>
<rect x="330.00" y="580.00" width="9.30" height="45.00" fill="#ee8b9b"/>
<rect x="345.50" y="589.30" width="9.50" height="35.70" fill="#6f9cc6"/>
<line x1="280.00" y1="553.00" x2="280.00" y2="625.40" stroke="#111" stroke-width="1.25"/>
<line x1="279.60" y1="625.00" x2="362.50" y2="625.00" stroke="#111" stroke-width="1.25"/>
<line x1="277.60" y1="555.50" x2="280.00" y2="555.50" stroke="#111" stroke-width="1.0"/>
<text x="275.80" y="558.36" font-size="8" text-anchor="end" fill="#1a1a1a" stroke="#1a1a1a" stroke-width="0.2">2.0</text>
<line x1="277.60" y1="572.90" x2="280.00" y2="572.90" stroke="#111" stroke-width="1.0"/>
<text x="275.80" y="575.76" font-size="8" text-anchor="end" fill="#1a1a1a" stroke="#1a1a1a" stroke-width="0.2">1.5</text>
<line x1="277.60" y1="590.20" x2="280.00" y2="590.20" stroke="#111" stroke-width="1.0"/>
<text x="275.80" y="593.06" font-size="8" text-anchor="end" fill="#1a1a1a" stroke="#1a1a1a" stroke-width="0.2">1.0</text>
<line x1="277.60" y1="607.60" x2="280.00" y2="607.60" stroke="#111" stroke-width="1.0"/>
<text x="275.80" y="610.46" font-size="8" text-anchor="end" fill="#1a1a1a" stroke="#1a1a1a" stroke-width="0.2">0.5</text>
<line x1="277.60" y1="625.00" x2="280.00" y2="625.00" stroke="#111" stroke-width="1.0"/>
<text x="275.80" y="627.86" font-size="8" text-anchor="end" fill="#1a1a1a" stroke="#1a1a1a" stroke-width="0.2">0.0</text>
<line x1="292.15" y1="582.50" x2="292.15" y2="589.50" stroke="#c8102e" stroke-width="0.8"/>
<line x1="289.95" y1="582.50" x2="294.35" y2="582.50" stroke="#c8102e" stroke-width="0.8"/>
<line x1="289.95" y1="589.50" x2="294.35" y2="589.50" stroke="#c8102e" stroke-width="0.8"/>
<line x1="307.75" y1="590.00" x2="307.75" y2="606.30" stroke="#1d5a96" stroke-width="0.8"/>
<line x1="305.55" y1="590.00" x2="309.95" y2="590.00" stroke="#1d5a96" stroke-width="0.8"/>
<line x1="305.55" y1="606.30" x2="309.95" y2="606.30" stroke="#1d5a96" stroke-width="0.8"/>
<line x1="334.65" y1="575.50" x2="334.65" y2="584.50" stroke="#c8102e" stroke-width="0.8"/>
<line x1="332.45" y1="575.50" x2="336.85" y2="575.50" stroke="#c8102e" stroke-width="0.8"/>
<line x1="332.45" y1="584.50" x2="336.85" y2="584.50" stroke="#c8102e" stroke-width="0.8"/>
<line x1="350.25" y1="581.30" x2="350.25" y2="595.00" stroke="#1d5a96" stroke-width="0.8"/>
<line x1="348.05" y1="581.30" x2="352.45" y2="581.30" stroke="#1d5a96" stroke-width="0.8"/>
<line x1="348.05" y1="595.00" x2="352.45" y2="595.00" stroke="#1d5a96" stroke-width="0.8"/>
<circle cx="291.75" cy="581.25" r="1.40" fill="#c8102e"/>
<circle cx="290.00" cy="586.25" r="1.40" fill="#c8102e"/>
<circle cx="293.75" cy="586.25" r="1.40" fill="#c8102e"/>
<circle cx="291.25" cy="589.50" r="1.40" fill="#c8102e"/>
<circle cx="292.50" cy="588.00" r="1.40" fill="#c8102e"/>
<circle cx="305.50" cy="590.00" r="1.40" fill="#1d5a96"/>
<circle cx="310.50" cy="592.00" r="1.40" fill="#1d5a96"/>
<circle cx="306.25" cy="598.75" r="1.40" fill="#1d5a96"/>
<circle cx="308.75" cy="602.00" r="1.40" fill="#1d5a96"/>
<circle cx="307.50" cy="605.00" r="1.40" fill="#1d5a96"/>
<circle cx="335.00" cy="574.50" r="1.40" fill="#c8102e"/>
<circle cx="333.25" cy="578.75" r="1.40" fill="#c8102e"/>
<circle cx="337.00" cy="578.00" r="1.40" fill="#c8102e"/>
<circle cx="334.50" cy="582.50" r="1.40" fill="#c8102e"/>
<circle cx="335.75" cy="583.75" r="1.40" fill="#c8102e"/>
<circle cx="350.00" cy="582.00" r="1.40" fill="#1d5a96"/>
<circle cx="352.50" cy="583.75" r="1.40" fill="#1d5a96"/>
<circle cx="349.25" cy="590.00" r="1.40" fill="#1d5a96"/>
<circle cx="353.75" cy="590.00" r="1.40" fill="#1d5a96"/>
<circle cx="351.25" cy="598.00" r="1.40" fill="#1d5a96"/>
<line x1="292.00" y1="576.40" x2="308.00" y2="576.40" stroke="#111" stroke-width="0.8"/>
<text x="300.00" y="576.28" font-size="7.2" text-anchor="middle" fill="#1a1a1a" stroke="#1a1a1a" stroke-width="0.2">**</text>
<line x1="334.50" y1="570.70" x2="350.00" y2="570.70" stroke="#111" stroke-width="0.8"/>
<text x="342.25" y="570.58" font-size="7.2" text-anchor="middle" fill="#1a1a1a" stroke="#1a1a1a" stroke-width="0.2">*</text>
<line x1="300.00" y1="625.00" x2="300.00" y2="627.30" stroke="#111" stroke-width="1.0"/>
<text x="300.00" y="637.12" font-size="7.6" text-anchor="middle" fill="#1a1a1a">YFP<tspan dy="-3" font-size="5.4">+</tspan></text>
<line x1="342.00" y1="625.00" x2="342.00" y2="627.30" stroke="#111" stroke-width="1.0"/>
<text x="342.00" y="637.12" font-size="7.6" text-anchor="middle" fill="#1a1a1a" stroke="#1a1a1a" stroke-width="0.2">LSC</text>
<text transform="translate(259.18,587.50) rotate(-90) scale(0.735,1)" font-size="8.8" text-anchor="middle" fill="#1a1a1a" stroke="#1a1a1a" stroke-width="0.22">Relative TMRE MFI</text>
<rect x="298.60" y="644.70" width="5.90" height="5.90" fill="#d81e3f"/>
<text x="307.40" y="650.25" font-size="7.4" text-anchor="start" fill="#1a1a1a" stroke="#1a1a1a" stroke-width="0.2">Ctrl</text>
<rect x="324.60" y="644.70" width="5.90" height="5.90" fill="#1d5a96"/>
<text x="333.40" y="650.25" font-size="7.4" text-anchor="start" fill="#1a1a1a" stroke="#1a1a1a" stroke-width="0.2">KO</text>
<text x="375" y="521.9" font-size="10.9" font-weight="bold" fill="#000" stroke="#000" stroke-width="0.5" stroke-linejoin="round">K</text>
<text x="451.30" y="520.88" font-size="7.5" text-anchor="middle" fill="#1a1a1a" stroke="#1a1a1a" stroke-width="0.2">Ctrl</text>
<line x1="402.60" y1="525.20" x2="500.40" y2="525.20" stroke="#000" stroke-width="1.0"/>
<text x="451.30" y="597.78" font-size="7.5" text-anchor="middle" fill="#1a1a1a" stroke="#1a1a1a" stroke-width="0.2">KO</text>
<line x1="402.60" y1="602.40" x2="500.40" y2="602.40" stroke="#000" stroke-width="1.0"/>
<rect x="391.00" y="528.40" width="58.00" height="56.10" fill="#020003"/>
<g clip-path="url(#kc1)" opacity="0.85"><g filter="url(#kb)">
<circle cx="399.90" cy="550.60" r="9.52" fill="url(#cg1)"/>
<circle cx="397.40" cy="548.10" r="2.20" fill="#6a48e8" fill-opacity="0.5"/>
<circle cx="402.40" cy="552.10" r="2.00" fill="#a0208a" fill-opacity="0.45"/>
<circle cx="398.90" cy="554.10" r="1.60" fill="#2a1a90" fill-opacity="0.5"/>
<circle cx="411.80" cy="564.40" r="8.18" fill="url(#cg2)"/>
<circle cx="410.30" cy="562.90" r="2.00" fill="#9a3ac8" fill-opacity="0.45"/>
<circle cx="413.80" cy="566.40" r="1.80" fill="#c0207a" fill-opacity="0.4"/>
<circle cx="438.60" cy="574.40" r="7.06" fill="url(#cg3)"/>
<circle cx="437.40" cy="575.40" r="3.60" fill="#2a2cf4" fill-opacity="0.95"/>
<circle cx="437.00" cy="575.80" r="2.00" fill="#4a48ff" fill-opacity="0.6"/>
<circle cx="441.20" cy="571.80" r="2.20" fill="#ff1838" fill-opacity="0.75"/>
</g></g>
<text x="392.80" y="576.42" font-size="6.2" text-anchor="start" fill="#f6f6f6" stroke="#f6f6f6" stroke-width="0.2">5um</text>
<rect x="393.30" y="578.00" width="9.40" height="0.90" fill="#f4f4f4"/>
<rect x="455.50" y="528.40" width="58.00" height="56.10" fill="#020003"/>
<g clip-path="url(#kc2)" opacity="0.85"><g filter="url(#kb)">
<circle cx="458.60" cy="538.10" r="6.72" fill="url(#cg4)"/>
<circle cx="456.10" cy="538.10" r="2.40" fill="#4a28b8" fill-opacity="0.55"/>
<circle cx="461.10" cy="539.10" r="2.20" fill="#8a1030" fill-opacity="0.5"/>
<circle cx="461.10" cy="555.00" r="7.84" fill="url(#cg5)"/>
<circle cx="461.60" cy="554.50" r="2.60" fill="#4a30e0" fill-opacity="0.6"/>
<circle cx="474.90" cy="549.40" r="6.94" fill="url(#cg6)"/>
<circle cx="473.90" cy="548.90" r="2.40" fill="#3a34f4" fill-opacity="0.6"/>
<circle cx="477.50" cy="551.40" r="1.80" fill="#c0288a" fill-opacity="0.45"/>
<circle cx="494.90" cy="550.60" r="7.39" fill="url(#cg7)"/>
<circle cx="494.10" cy="551.40" r="3.00" fill="#2c30f0" fill-opacity="0.85"/>
<circle cx="496.50" cy="546.80" r="2.00" fill="#e01840" fill-opacity="0.5"/>
<circle cx="487.40" cy="560.00" r="7.39" fill="url(#cg8)"/>
<circle cx="489.40" cy="559.40" r="2.40" fill="#5030d8" fill-opacity="0.75"/>
<circle cx="485.00" cy="562.60" r="2.40" fill="#f01444" fill-opacity="0.55"/>
</g></g>
<text x="456.80" y="576.42" font-size="6.2" text-anchor="start" fill="#f6f6f6" stroke="#f6f6f6" stroke-width="0.2">5um</text>
<rect x="458.00" y="578.00" width="9.40" height="0.90" fill="#f4f4f4"/>
<rect x="391.00" y="605.20" width="58.00" height="56.10" fill="#020003"/>
<g clip-path="url(#kc3)" opacity="0.85"><g filter="url(#kb)">
<circle cx="404.30" cy="619.50" r="8.51" fill="url(#cg9)"/>
<circle cx="402.80" cy="618.50" r="2.40" fill="#3a2ae0" fill-opacity="0.5"/>
<circle cx="406.30" cy="621.50" r="2.00" fill="#1c1090" fill-opacity="0.4"/>
<circle cx="423.00" cy="635.80" r="7.73" fill="url(#cg10)"/>
<circle cx="424.40" cy="635.20" r="2.20" fill="#5a1020" fill-opacity="0.75"/>
<circle cx="420.60" cy="637.40" r="2.20" fill="#3a2cf4" fill-opacity="0.6"/>
<circle cx="425.50" cy="647.60" r="6.72" fill="url(#cg11)"/>
<circle cx="426.00" cy="648.10" r="2.20" fill="#4a3cff" fill-opacity="0.5"/>
</g></g>
<text x="392.80" y="653.22" font-size="6.2" text-anchor="start" fill="#f6f6f6" stroke="#f6f6f6" stroke-width="0.2">5um</text>
<rect x="393.30" y="654.80" width="9.40" height="0.90" fill="#f4f4f4"/>
<rect x="455.50" y="605.20" width="58.00" height="56.10" fill="#020003"/>
<g clip-path="url(#kc4)" opacity="0.85"><g filter="url(#kb)">
<circle cx="485.50" cy="612.60" r="6.38" fill="url(#cg12)"/>
<circle cx="486.00" cy="611.10" r="1.60" fill="#180c60" fill-opacity="0.6"/>
<circle cx="484.00" cy="614.10" r="1.80" fill="#3a2ce8" fill-opacity="0.5"/>
<circle cx="498.00" cy="622.60" r="7.06" fill="url(#cg13)"/>
<circle cx="498.50" cy="621.60" r="1.60" fill="#6a1440" fill-opacity="0.5"/>
<circle cx="497.00" cy="624.60" r="1.80" fill="#3020c0" fill-opacity="0.5"/>
<circle cx="466.10" cy="626.40" r="8.18" fill="url(#cg14)"/>
<circle cx="466.10" cy="626.40" r="2.40" fill="#1a1090" fill-opacity="0.5"/>
<circle cx="463.60" cy="623.90" r="1.80" fill="#3c30f4" fill-opacity="0.5"/>
<circle cx="481.10" cy="628.30" r="8.74" fill="url(#cg15)"/>
<circle cx="477.90" cy="627.30" r="2.20" fill="#6a2090" fill-opacity="0.5"/>
<circle cx="482.60" cy="629.80" r="2.60" fill="#3a30f8" fill-opacity="0.5"/>
<circle cx="478.00" cy="645.10" r="7.06" fill="url(#cg16)"/>
<circle cx="477.00" cy="644.10" r="2.00" fill="#4034f8" fill-opacity="0.45"/>
<circle cx="492.40" cy="643.90" r="7.06" fill="url(#cg17)"/>
<circle cx="493.40" cy="642.90" r="2.00" fill="#3c30f0" fill-opacity="0.45"/>
</g></g>
<text x="456.80" y="653.22" font-size="6.2" text-anchor="start" fill="#f6f6f6" stroke="#f6f6f6" stroke-width="0.2">5um</text>
<rect x="458.00" y="654.80" width="9.40" height="0.90" fill="#f4f4f4"/>
</svg>
</div>
</body></html>
